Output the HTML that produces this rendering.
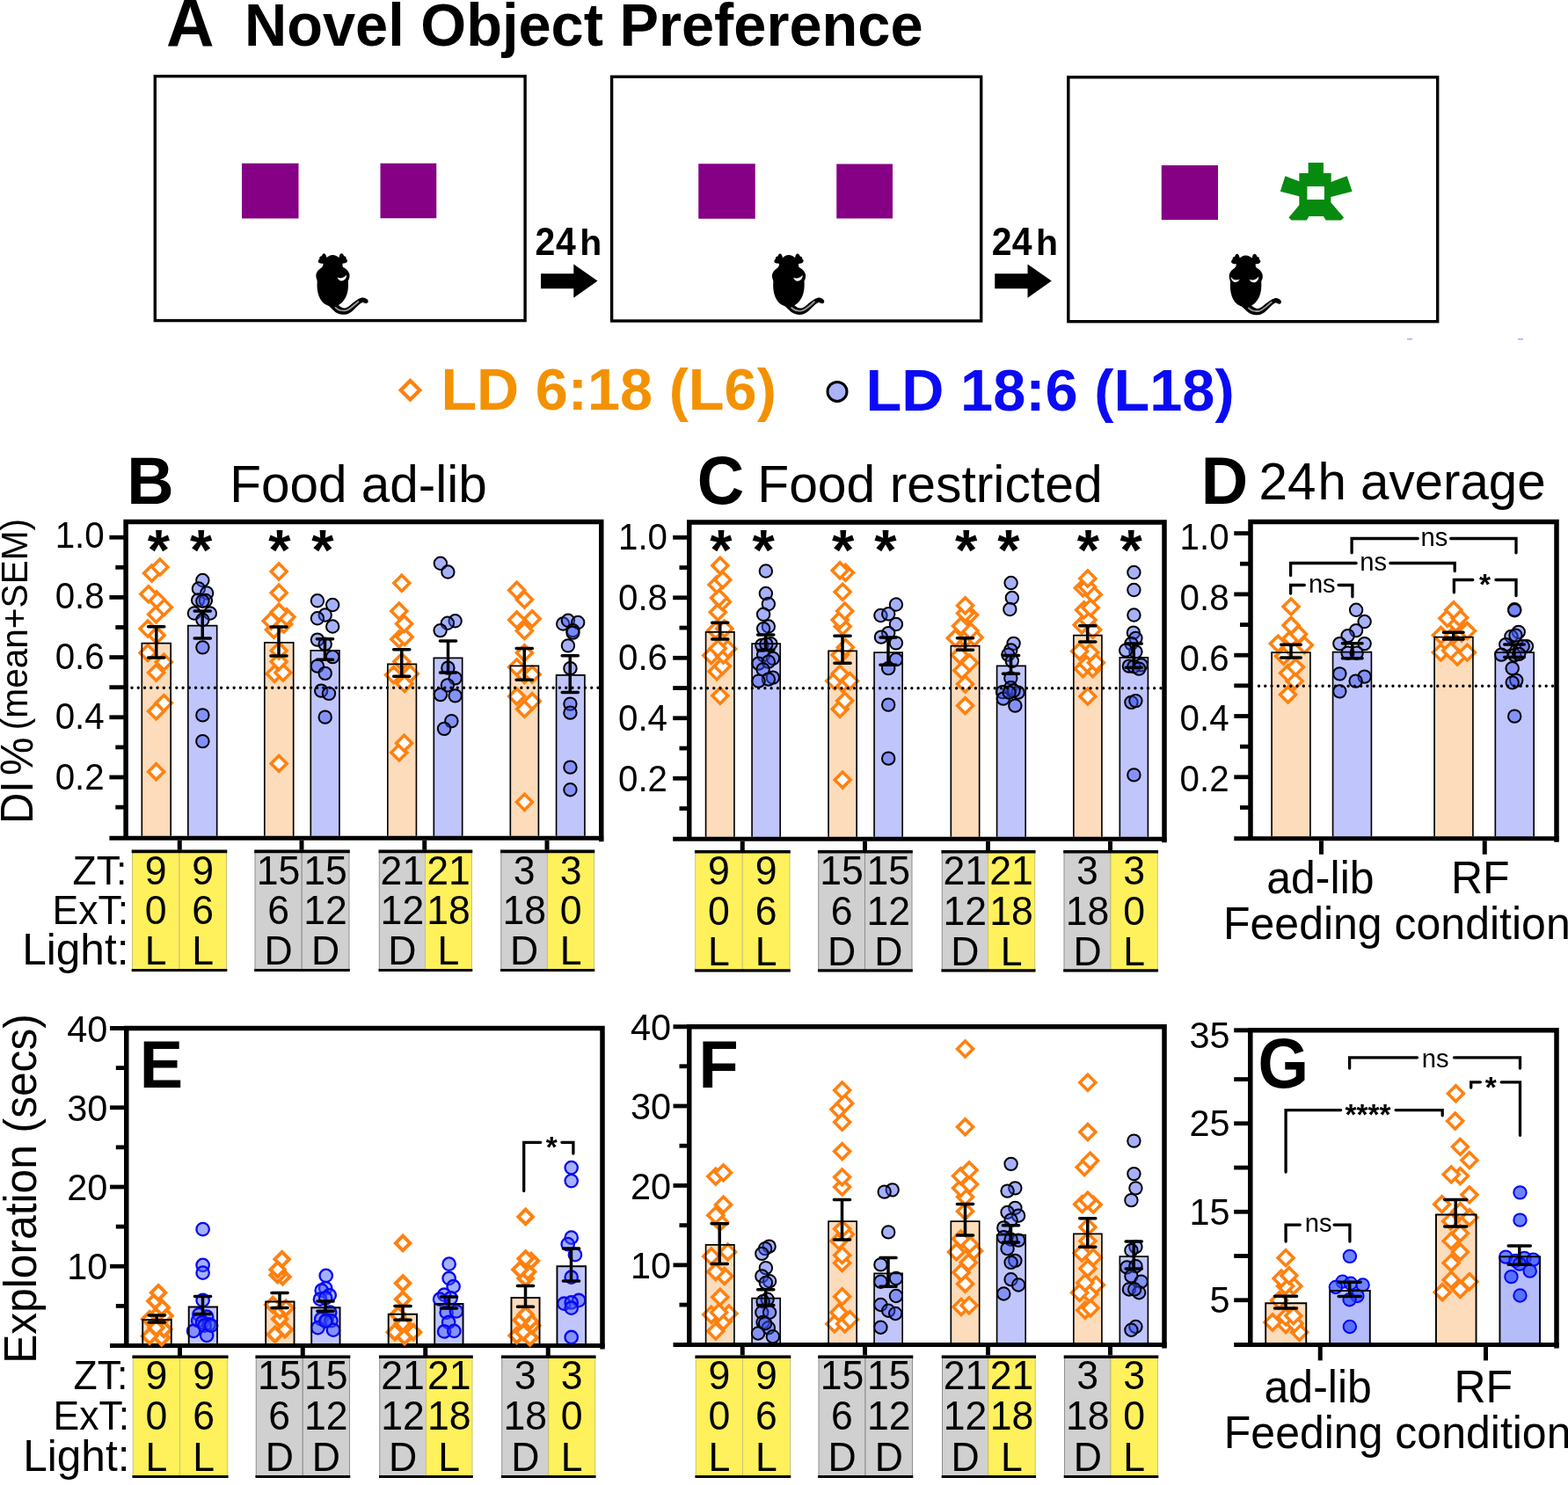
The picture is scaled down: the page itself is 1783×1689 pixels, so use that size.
<!DOCTYPE html>
<html lang="en"><head><meta charset="utf-8"><title>Novel Object Preference</title>
<style>html,body{margin:0;padding:0;background:#fff}svg{display:block}</style></head><body>
<svg width="1783" height="1689" viewBox="0 0 1783 1689" font-family='"Liberation Sans", sans-serif'>
<rect width="1783" height="1689" fill="#fff"/>
<text transform="translate(189 53.2) scale(1 1.03)" font-size="75.5" font-weight="bold">A</text>
<text transform="translate(278 52.2) scale(1 1.02)" font-size="66.75" font-weight="bold">Novel Object Preference</text>
<rect x="176.3" y="86.7" width="420.8" height="277.9" fill="none" stroke="#000" stroke-width="3.4"/>
<rect x="695.6" y="87.3" width="420.1" height="277.7" fill="none" stroke="#000" stroke-width="3.4"/>
<rect x="1214.8" y="87.8" width="419.9" height="277.9" fill="none" stroke="#000" stroke-width="3.4"/>
<rect x="275" y="185.75" width="64.5" height="62.75" fill="#850085"/>
<rect x="432.5" y="185.75" width="63.75" height="62.5" fill="#850085"/>
<rect x="794.25" y="186.25" width="64.5" height="62.5" fill="#850085"/>
<rect x="951.25" y="186.5" width="63.75" height="62" fill="#850085"/>
<rect x="1320.75" y="188" width="64.25" height="62" fill="#850085"/>
<path d="M1487.65 184.94L1504.95 184.94L1504.95 197.06L1513.7 197.06L1513.7 206.88L1531.67 200.29L1537.59 217.65L1513.36 223.98L1513.36 230.24L1528.17 247.4L1524.94 250.43L1507.64 250.43L1504.95 246.05L1488.46 246.05L1485.77 250.43L1468.6 250.43L1465.44 247.4L1477.35 233.26L1477.35 223.17L1455.82 217.65L1461.4 200.29L1477.35 206.34L1477.35 197.06L1487.65 197.06ZM1486.44 212.06L1486.44 227.07L1505.96 227.07L1505.96 212.06Z" fill="#078a10" fill-rule="evenodd"/>
<g transform="translate(345 275) scale(0.05625)">
<path d="M590 265C540 265 500 290 470 320C460 270 440 235 415 235C390 235 375 270 370 290C340 290 320 310 325 345C290 370 290 410 320 425C350 440 380 440 400 440C400 470 390 500 370 520C300 560 255 620 255 690C255 740 280 770 280 800C270 900 280 1000 310 1090C340 1180 400 1250 480 1285C530 1300 560 1340 600 1380C660 1440 740 1475 820 1470C900 1470 960 1430 1010 1380C1080 1310 1130 1250 1200 1220C1230 1230 1250 1250 1280 1245C1310 1235 1320 1200 1300 1175C1270 1140 1220 1120 1180 1130C1100 1150 1020 1220 950 1280C900 1320 860 1345 820 1340C780 1335 740 1310 710 1280C800 1230 870 1130 895 1000C910 920 910 850 905 790C930 750 940 700 930 650C915 590 860 540 800 510C790 490 790 460 790 440C830 440 860 430 880 410C900 390 890 360 865 345C870 310 850 290 820 290C815 265 795 235 765 235C740 235 725 275 720 320C690 290 640 265 590 265Z" fill="#000"/>
<path d="M685 715C740 750 820 730 870 670C880 720 840 790 770 790C730 790 700 760 685 715Z" fill="#f4f4f4"/>
<path d="M650 1330C720 1395 800 1400 860 1390C940 1370 1040 1270 1110 1210" fill="none" stroke="#999" stroke-width="32" stroke-linecap="round"/>
</g>
<g transform="translate(863.6 275.2) scale(0.05625)">
<path d="M590 265C540 265 500 290 470 320C460 270 440 235 415 235C390 235 375 270 370 290C340 290 320 310 325 345C290 370 290 410 320 425C350 440 380 440 400 440C400 470 390 500 370 520C300 560 255 620 255 690C255 740 280 770 280 800C270 900 280 1000 310 1090C340 1180 400 1250 480 1285C530 1300 560 1340 600 1380C660 1440 740 1475 820 1470C900 1470 960 1430 1010 1380C1080 1310 1130 1250 1200 1220C1230 1230 1250 1250 1280 1245C1310 1235 1320 1200 1300 1175C1270 1140 1220 1120 1180 1130C1100 1150 1020 1220 950 1280C900 1320 860 1345 820 1340C780 1335 740 1310 710 1280C800 1230 870 1130 895 1000C910 920 910 850 905 790C930 750 940 700 930 650C915 590 860 540 800 510C790 490 790 460 790 440C830 440 860 430 880 410C900 390 890 360 865 345C870 310 850 290 820 290C815 265 795 235 765 235C740 235 725 275 720 320C690 290 640 265 590 265Z" fill="#000"/>
<path d="M685 715C740 750 820 730 870 670C880 720 840 790 770 790C730 790 700 760 685 715Z" fill="#f4f4f4"/>
<path d="M650 1330C720 1395 800 1400 860 1390C940 1370 1040 1270 1110 1210" fill="none" stroke="#999" stroke-width="32" stroke-linecap="round"/>
</g>
<g transform="translate(1383.3 275.6) scale(0.05625)">
<path d="M590 265C540 265 500 290 470 320C460 270 440 235 415 235C390 235 375 270 370 290C340 290 320 310 325 345C290 370 290 410 320 425C350 440 380 440 400 440C400 470 390 500 370 520C300 560 255 620 255 690C255 740 280 770 280 800C270 900 280 1000 310 1090C340 1180 400 1250 480 1285C530 1300 560 1340 600 1380C660 1440 740 1475 820 1470C900 1470 960 1430 1010 1380C1080 1310 1130 1250 1200 1220C1230 1230 1250 1250 1280 1245C1310 1235 1320 1200 1300 1175C1270 1140 1220 1120 1180 1130C1100 1150 1020 1220 950 1280C900 1320 860 1345 820 1340C780 1335 740 1310 710 1280C800 1230 870 1130 895 1000C910 920 910 850 905 790C930 750 940 700 930 650C915 590 860 540 800 510C790 490 790 460 790 440C830 440 860 430 880 410C900 390 890 360 865 345C870 310 850 290 820 290C815 265 795 235 765 235C740 235 725 275 720 320C690 290 640 265 590 265Z" fill="#000"/>
<path d="M285 690C320 750 390 780 470 745C440 800 400 812 365 805C325 795 295 750 285 690Z" fill="#f4f4f4"/>
<path d="M665 745C720 780 800 760 850 690C860 745 820 812 750 812C710 812 680 790 665 745Z" fill="#f4f4f4"/>
<path d="M650 1330C720 1395 800 1400 860 1390C940 1370 1040 1270 1110 1210" fill="none" stroke="#999" stroke-width="32" stroke-linecap="round"/>
</g>
<text transform="translate(608.6 289.9) scale(1 1.09)" font-size="41" font-weight="bold" letter-spacing="0.5">24</text>
<text transform="translate(659.3 289.9) scale(1 1.01)" font-size="41" font-weight="bold">h</text>
<path d="M615 311.3H652.3V300.5L679.5 319.5L652.3 338.8V328.3H615Z" fill="#000"/>
<text transform="translate(1127.85 289.9) scale(1 1.09)" font-size="41" font-weight="bold" letter-spacing="0.2">24</text>
<text transform="translate(1177.95 289.9) scale(1 1.01)" font-size="41" font-weight="bold">h</text>
<path d="M1131.25 311.3H1168.55V300.5L1195.75 319.5L1168.55 338.8V328.3H1131.25Z" fill="#000"/>
<rect x="1600" y="385" width="6" height="1.4" fill="#9aa8ff"/>
<rect x="1726" y="385" width="6" height="1.4" fill="#9aa8ff"/>
<path d="M466.5 432.9L477.3 443.7L466.5 454.5L455.7 443.7Z" fill="#fff" stroke="#ff800f" stroke-width="4.2"/>
<text transform="translate(501.4 466.2) scale(1 1.012)" font-size="66.65" font-weight="bold" fill="#f39200">LD 6:18 (L6)</text>
<circle cx="952" cy="445.4" r="11" fill="#a9b4fb" stroke="#000" stroke-width="3"/>
<text transform="translate(984.6 466.8) scale(1 1.012)" font-size="66.75" font-weight="bold" fill="#0a0af5">LD 18:6 (L18)</text>
<text transform="translate(144.3 573.2) scale(1 1.035)" font-size="74" font-weight="bold">B</text>
<text transform="translate(261.2 570.6) scale(1 1.02)" font-size="58.5">Food ad-lib</text>
<rect x="161.32" y="731.58" width="32.85" height="222.5" fill="#fddcbb"/>
<rect x="213.82" y="711.58" width="32.85" height="242.5" fill="#c0c6fb"/>
<rect x="300.82" y="730.83" width="32.85" height="223.25" fill="#fddcbb"/>
<rect x="353.32" y="739.83" width="32.6" height="214.25" fill="#c0c6fb"/>
<rect x="440.82" y="755.33" width="32.6" height="198.75" fill="#fddcbb"/>
<rect x="493.32" y="748.33" width="32.35" height="205.75" fill="#c0c6fb"/>
<rect x="580.33" y="757.33" width="32.1" height="196.75" fill="#fddcbb"/>
<rect x="632.58" y="767.83" width="32.35" height="186.25" fill="#c0c6fb"/>
<path d="M143.1 953.25V593.6H683.75V957.25" fill="none" stroke="#000" stroke-width="5.5" stroke-linejoin="miter"/>
<line x1="124.4" y1="953.25" x2="686.25" y2="953.25" stroke="#000" stroke-width="5"/>
<line x1="131.3" y1="918.1" x2="143.1" y2="918.1" stroke="#000" stroke-width="4.8"/>
<line x1="124.4" y1="884" x2="143.1" y2="884" stroke="#000" stroke-width="4.8"/>
<line x1="131.3" y1="849.9" x2="143.1" y2="849.9" stroke="#000" stroke-width="4.8"/>
<line x1="124.4" y1="815.8" x2="143.1" y2="815.8" stroke="#000" stroke-width="4.8"/>
<line x1="124.4" y1="781.7" x2="143.1" y2="781.7" stroke="#000" stroke-width="4.8"/>
<line x1="124.4" y1="747.6" x2="143.1" y2="747.6" stroke="#000" stroke-width="4.8"/>
<line x1="131.3" y1="713.5" x2="143.1" y2="713.5" stroke="#000" stroke-width="4.8"/>
<line x1="124.4" y1="679.4" x2="143.1" y2="679.4" stroke="#000" stroke-width="4.8"/>
<line x1="131.3" y1="645.3" x2="143.1" y2="645.3" stroke="#000" stroke-width="4.8"/>
<line x1="124.4" y1="611.2" x2="143.1" y2="611.2" stroke="#000" stroke-width="4.8"/>
<text transform="translate(118.7 897.81) scale(1 1.04)" font-size="40.3" text-anchor="end">0.2</text>
<text transform="translate(118.7 829.16) scale(1 1.04)" font-size="40.3" text-anchor="end">0.4</text>
<text transform="translate(118.7 760.51) scale(1 1.04)" font-size="40.3" text-anchor="end">0.6</text>
<text transform="translate(118.7 691.86) scale(1 1.04)" font-size="40.3" text-anchor="end">0.8</text>
<text transform="translate(118.7 623.21) scale(1 1.04)" font-size="40.3" text-anchor="end">1.0</text>
<line x1="204.25" y1="955.75" x2="204.25" y2="966.75" stroke="#000" stroke-width="5"/>
<line x1="343" y1="955.75" x2="343" y2="966.75" stroke="#000" stroke-width="5"/>
<line x1="482.75" y1="955.75" x2="482.75" y2="966.75" stroke="#000" stroke-width="5"/>
<line x1="622" y1="955.75" x2="622" y2="966.75" stroke="#000" stroke-width="5"/>
<g fill="#fff" stroke="#ff800f" stroke-width="3.55" stroke-linejoin="miter">
<path d="M177.6 868.72L186.55 877.67L177.6 886.62L168.65 877.67Z"/>
<path d="M177.6 799.93L186.55 808.88L177.6 817.83L168.65 808.88Z"/>
<path d="M186.35 790.67L195.3 799.62L186.35 808.57L177.4 799.62Z"/>
<path d="M177.6 756.15L186.55 765.1L177.6 774.05L168.65 765.1Z"/>
<path d="M186.35 744.15L195.3 753.1L186.35 762.05L177.4 753.1Z"/>
<path d="M168.09 733.64L177.04 742.59L168.09 751.54L159.14 742.59Z"/>
<path d="M178.1 713.63L187.05 722.58L178.1 731.53L169.15 722.58Z"/>
<path d="M168.09 706.13L177.04 715.08L168.09 724.03L159.14 715.08Z"/>
<path d="M177.6 689.87L186.55 698.82L177.6 707.77L168.65 698.82Z"/>
<path d="M186.35 681.86L195.3 690.81L186.35 699.76L177.4 690.81Z"/>
<path d="M178.1 673.11L187.05 682.06L178.1 691.01L169.15 682.06Z"/>
<path d="M168.84 666.85L177.79 675.8L168.84 684.75L159.89 675.8Z"/>
<path d="M172.6 643.09L181.55 652.04L172.6 660.99L163.65 652.04Z"/>
<path d="M181.85 636.09L190.8 645.04L181.85 653.99L172.9 645.04Z"/>
</g>
<g fill="#3d55f5" fill-opacity="0.46" stroke="#000" stroke-width="2">
<circle cx="230.38" cy="660.04" r="7.2"/>
<circle cx="225.88" cy="669.55" r="7.2"/>
<circle cx="235.13" cy="674.55" r="7.2"/>
<circle cx="225.13" cy="682.56" r="7.2"/>
<circle cx="233.88" cy="683.06" r="7.2"/>
<circle cx="230.38" cy="683.81" r="7.2"/>
<circle cx="220.87" cy="697.57" r="7.2"/>
<circle cx="238.88" cy="697.57" r="7.2"/>
<circle cx="230.38" cy="705.07" r="7.2"/>
<circle cx="230.38" cy="736.34" r="7.2"/>
<circle cx="230.38" cy="813.38" r="7.2"/>
<circle cx="230.38" cy="843.15" r="7.2"/>
</g>
<g fill="#fff" stroke="#ff800f" stroke-width="3.55" stroke-linejoin="miter">
<path d="M317.18 859.46L326.13 868.41L317.18 877.36L308.23 868.41Z"/>
<path d="M312.17 757.4L321.12 766.35L312.17 775.3L303.22 766.35Z"/>
<path d="M321.93 756.15L330.88 765.1L321.93 774.05L312.98 765.1Z"/>
<path d="M317.18 743.65L326.13 752.6L317.18 761.55L308.23 752.6Z"/>
<path d="M317.18 731.14L326.13 740.09L317.18 749.04L308.23 740.09Z"/>
<path d="M311.42 707.38L320.37 716.33L311.42 725.28L302.47 716.33Z"/>
<path d="M322.68 701.12L331.63 710.07L322.68 719.02L313.73 710.07Z"/>
<path d="M308.17 697.37L317.12 706.32L308.17 715.27L299.22 706.32Z"/>
<path d="M325.93 692.87L334.88 701.82L325.93 710.77L316.98 701.82Z"/>
<path d="M317.18 687.37L326.13 696.32L317.18 705.27L308.23 696.32Z"/>
<path d="M317.18 665.35L326.13 674.3L317.18 683.25L308.23 674.3Z"/>
<path d="M317.18 641.09L326.13 650.04L317.18 658.99L308.23 650.04Z"/>
</g>
<g fill="#3d55f5" fill-opacity="0.46" stroke="#000" stroke-width="2">
<circle cx="360.95" cy="683.31" r="7.2"/>
<circle cx="378.21" cy="688.06" r="7.2"/>
<circle cx="369.71" cy="699.57" r="7.2"/>
<circle cx="360.95" cy="703.32" r="7.2"/>
<circle cx="378.21" cy="712.57" r="7.2"/>
<circle cx="360.95" cy="727.58" r="7.2"/>
<circle cx="369.71" cy="732.59" r="7.2"/>
<circle cx="378.21" cy="747.09" r="7.2"/>
<circle cx="360.95" cy="757.6" r="7.2"/>
<circle cx="369.71" cy="765.85" r="7.2"/>
<circle cx="365.2" cy="785.62" r="7.2"/>
<circle cx="373.96" cy="788.87" r="7.2"/>
<circle cx="369.71" cy="815.63" r="7.2"/>
</g>
<g fill="#fff" stroke="#ff800f" stroke-width="3.55" stroke-linejoin="miter">
<path d="M453.84 846.95L462.79 855.9L453.84 864.85L444.89 855.9Z"/>
<path d="M459.59 836.2L468.54 845.15L459.59 854.1L450.64 845.15Z"/>
<path d="M460.09 768.66L469.04 777.61L460.09 786.56L451.14 777.61Z"/>
<path d="M447.58 758.66L456.53 767.61L447.58 776.56L438.63 767.61Z"/>
<path d="M466.34 757.4L475.29 766.35L466.34 775.3L457.39 766.35Z"/>
<path d="M456.84 743.65L465.79 752.6L456.84 761.55L447.89 752.6Z"/>
<path d="M453.84 718.13L462.79 727.08L453.84 736.03L444.89 727.08Z"/>
<path d="M460.09 715.63L469.04 724.58L460.09 733.53L451.14 724.58Z"/>
<path d="M459.59 700.62L468.54 709.57L459.59 718.52L450.64 709.57Z"/>
<path d="M453.84 686.11L462.79 695.06L453.84 704.01L444.89 695.06Z"/>
<path d="M456.84 654.35L465.79 663.3L456.84 672.25L447.89 663.3Z"/>
</g>
<g fill="#3d55f5" fill-opacity="0.46" stroke="#000" stroke-width="2">
<circle cx="500.86" cy="640.78" r="7.2"/>
<circle cx="509.37" cy="650.54" r="7.2"/>
<circle cx="517.62" cy="706.32" r="7.2"/>
<circle cx="508.87" cy="708.82" r="7.2"/>
<circle cx="500.61" cy="717.08" r="7.2"/>
<circle cx="509.37" cy="759.6" r="7.2"/>
<circle cx="517.62" cy="771.36" r="7.2"/>
<circle cx="508.87" cy="779.36" r="7.2"/>
<circle cx="500.86" cy="790.12" r="7.2"/>
<circle cx="517.62" cy="791.37" r="7.2"/>
<circle cx="513.37" cy="820.13" r="7.2"/>
<circle cx="505.11" cy="828.89" r="7.2"/>
</g>
<g fill="#fff" stroke="#ff800f" stroke-width="3.55" stroke-linejoin="miter">
<path d="M596.42 903.24L605.37 912.19L596.42 921.14L587.47 912.19Z"/>
<path d="M596.42 797.43L605.37 806.38L596.42 815.33L587.47 806.38Z"/>
<path d="M605.17 788.67L614.12 797.62L605.17 806.57L596.22 797.62Z"/>
<path d="M587.66 783.17L596.61 792.12L587.66 801.07L578.71 792.12Z"/>
<path d="M596.42 758.66L605.37 767.61L596.42 776.56L587.47 767.61Z"/>
<path d="M605.17 758.15L614.12 767.1L605.17 776.05L596.22 767.1Z"/>
<path d="M587.66 749.9L596.61 758.85L587.66 767.8L578.71 758.85Z"/>
<path d="M596.42 733.64L605.37 742.59L596.42 751.54L587.47 742.59Z"/>
<path d="M596.42 708.63L605.37 717.58L596.42 726.53L587.47 717.58Z"/>
<path d="M587.66 696.12L596.61 705.07L587.66 714.02L578.71 705.07Z"/>
<path d="M605.17 694.87L614.12 703.82L605.17 712.77L596.22 703.82Z"/>
<path d="M596.42 673.11L605.37 682.06L596.42 691.01L587.47 682.06Z"/>
<path d="M587.66 662.35L596.61 671.3L587.66 680.25L578.71 671.3Z"/>
</g>
<g fill="#3d55f5" fill-opacity="0.46" stroke="#000" stroke-width="2">
<circle cx="640.19" cy="709.57" r="7.2"/>
<circle cx="645.94" cy="705.82" r="7.2"/>
<circle cx="657.2" cy="708.07" r="7.2"/>
<circle cx="651.45" cy="717.08" r="7.2"/>
<circle cx="651.45" cy="719.58" r="7.2"/>
<circle cx="645.94" cy="734.34" r="7.2"/>
<circle cx="648.45" cy="760.1" r="7.2"/>
<circle cx="648.45" cy="800.62" r="7.2"/>
<circle cx="648.45" cy="810.63" r="7.2"/>
<circle cx="648.45" cy="872.66" r="7.2"/>
<circle cx="648.45" cy="898.18" r="7.2"/>
</g>
<g fill="none" stroke="#000" stroke-width="1.65">
<path d="M161.32 950.85V731.58H194.18V950.85"/>
<path d="M213.82 950.85V711.58H246.68V950.85"/>
<path d="M300.82 950.85V730.83H333.68V950.85"/>
<path d="M353.32 950.85V739.83H385.93V950.85"/>
<path d="M440.82 950.85V755.33H473.43V950.85"/>
<path d="M493.32 950.85V748.33H525.67V950.85"/>
<path d="M580.33 950.85V757.33H612.42V950.85"/>
<path d="M632.58 950.85V767.83H664.92V950.85"/>
</g>
<g stroke="#000" stroke-width="3.5" fill="none" stroke-linecap="round">
<path d="M168.65 712.7H186.85M168.65 747.9H186.85M177.75 712.7V747.9"/>
<path d="M221.15 694.9H239.35M221.15 725.9H239.35M230.25 694.9V725.9"/>
<path d="M307.9 713.1H326.1M307.9 745.9H326.1M317 713.1V745.9"/>
<path d="M360.4 726.8H378.6M360.4 750.3H378.6M369.5 726.8V750.3"/>
<path d="M447.65 738.75H465.85M447.65 769.25H465.85M456.75 738.75V769.25"/>
<path d="M500.4 729H518.6M500.4 765H518.6M509.5 729V765"/>
<path d="M587.15 737.5H605.35M587.15 773.25H605.35M596.25 737.5V773.25"/>
<path d="M639.15 745.75H657.35M639.15 787.5H657.35M648.25 745.75V787.5"/>
</g>
<line x1="150" y1="782.3" x2="680.75" y2="782.3" stroke="#000" stroke-width="3.4" stroke-dasharray="0.01 7.25" stroke-linecap="round"/>
<text x="180.5" y="648" font-size="65" font-weight="bold" text-anchor="middle">*</text>
<text x="228.75" y="648" font-size="65" font-weight="bold" text-anchor="middle">*</text>
<text x="318" y="648" font-size="65" font-weight="bold" text-anchor="middle">*</text>
<text x="367" y="648" font-size="65" font-weight="bold" text-anchor="middle">*</text>
<rect x="150.5" y="968.4" width="53.5" height="135.1" fill="#fff15c" stroke="#c9c270" stroke-width="1"/>
<rect x="204" y="968.4" width="53.5" height="135.1" fill="#fff15c" stroke="#c9c270" stroke-width="1"/>
<line x1="149.7" y1="968.4" x2="258.3" y2="968.4" stroke="#000" stroke-width="3.6"/>
<line x1="149.7" y1="1103.5" x2="258.3" y2="1103.5" stroke="#000" stroke-width="3.2"/>
<rect x="290" y="968.4" width="53.25" height="135.1" fill="#d0d0d0" stroke="#8f8f8f" stroke-width="1"/>
<rect x="343.25" y="968.4" width="53.75" height="135.1" fill="#d0d0d0" stroke="#8f8f8f" stroke-width="1"/>
<line x1="289.2" y1="968.4" x2="397.8" y2="968.4" stroke="#000" stroke-width="3.6"/>
<line x1="289.2" y1="1103.5" x2="397.8" y2="1103.5" stroke="#000" stroke-width="3.2"/>
<rect x="431.3" y="968.4" width="52.2" height="135.1" fill="#d0d0d0" stroke="#8f8f8f" stroke-width="1"/>
<rect x="483.5" y="968.4" width="53" height="135.1" fill="#fff15c" stroke="#c9c270" stroke-width="1"/>
<line x1="430.5" y1="968.4" x2="537.3" y2="968.4" stroke="#000" stroke-width="3.6"/>
<line x1="430.5" y1="1103.5" x2="537.3" y2="1103.5" stroke="#000" stroke-width="3.2"/>
<rect x="569.8" y="968.4" width="52.8" height="135.1" fill="#d0d0d0" stroke="#8f8f8f" stroke-width="1"/>
<rect x="622.6" y="968.4" width="52.9" height="135.1" fill="#fff15c" stroke="#c9c270" stroke-width="1"/>
<line x1="569" y1="968.4" x2="676.3" y2="968.4" stroke="#000" stroke-width="3.6"/>
<line x1="569" y1="1103.5" x2="676.3" y2="1103.5" stroke="#000" stroke-width="3.2"/>
<g font-size="44.6" text-anchor="middle">
<text transform="translate(177.25 1005.7) scale(1 1.04)">9</text>
<text transform="translate(230.75 1005.7) scale(1 1.04)">9</text>
<text transform="translate(316.62 1005.7) scale(1 1.04)">15</text>
<text transform="translate(370.12 1005.7) scale(1 1.04)">15</text>
<text transform="translate(457.4 1005.7) scale(1 1.04)">21</text>
<text transform="translate(510 1005.7) scale(1 1.04)">21</text>
<text transform="translate(596.2 1005.7) scale(1 1.04)">3</text>
<text transform="translate(649.05 1005.7) scale(1 1.04)">3</text>
<text transform="translate(177.25 1051.2) scale(1 1.04)">0</text>
<text transform="translate(230.75 1051.2) scale(1 1.04)">6</text>
<text transform="translate(316.62 1051.2) scale(1 1.04)">6</text>
<text transform="translate(370.12 1051.2) scale(1 1.04)">12</text>
<text transform="translate(457.4 1051.2) scale(1 1.04)">12</text>
<text transform="translate(510 1051.2) scale(1 1.04)">18</text>
<text transform="translate(596.2 1051.2) scale(1 1.04)">18</text>
<text transform="translate(649.05 1051.2) scale(1 1.04)">0</text>
<text transform="translate(177.25 1097.4) scale(1 1.04)">L</text>
<text transform="translate(230.75 1097.4) scale(1 1.04)">L</text>
<text transform="translate(316.62 1097.4) scale(1 1.04)">D</text>
<text transform="translate(370.12 1097.4) scale(1 1.04)">D</text>
<text transform="translate(457.4 1097.4) scale(1 1.04)">D</text>
<text transform="translate(510 1097.4) scale(1 1.04)">L</text>
<text transform="translate(596.2 1097.4) scale(1 1.04)">D</text>
<text transform="translate(649.05 1097.4) scale(1 1.04)">L</text>
</g>
<text transform="translate(144.3 1005.7) scale(1 1.02)" font-size="44.5" text-anchor="end">ZT:</text>
<text transform="translate(146 1051.2) scale(1 1.02)" font-size="44.5" text-anchor="end">ExT:</text>
<text transform="translate(146.5 1097.4) scale(1 1.02)" font-size="49.6" text-anchor="end">Light:</text>
<text transform="translate(36.9 937) rotate(-90) scale(1 1.04)" font-size="49">DI<tspan dx="6">%</tspan></text>
<text transform="translate(31 830.2) rotate(-90) scale(1 1.03)" font-size="40.6">(mean+SEM)</text>
<text transform="translate(792.8 572.7) scale(1 1.05)" font-size="74" font-weight="bold">C</text>
<text transform="translate(861.2 570.6) scale(1 1.02)" font-size="58.85">Food restricted</text>
<rect x="802.58" y="718.83" width="32.35" height="236.25" fill="#fddcbb"/>
<rect x="855.08" y="732.08" width="32.1" height="223" fill="#c0c6fb"/>
<rect x="942.08" y="740.33" width="32.1" height="214.75" fill="#fddcbb"/>
<rect x="994.08" y="742.08" width="32.1" height="213" fill="#c0c6fb"/>
<rect x="1081.33" y="734.58" width="32.35" height="220.5" fill="#fddcbb"/>
<rect x="1133.58" y="757.33" width="32.6" height="197.75" fill="#c0c6fb"/>
<rect x="1220.83" y="722.58" width="32.1" height="232.5" fill="#fddcbb"/>
<rect x="1273.33" y="747.83" width="32.1" height="207.25" fill="#c0c6fb"/>
<path d="M783.75 954.25V594H1324V958.25" fill="none" stroke="#000" stroke-width="5.5" stroke-linejoin="miter"/>
<line x1="765.2" y1="954.25" x2="1326.5" y2="954.25" stroke="#000" stroke-width="5"/>
<line x1="772.5" y1="919.55" x2="783.75" y2="919.55" stroke="#000" stroke-width="4.8"/>
<line x1="765.2" y1="885.3" x2="783.75" y2="885.3" stroke="#000" stroke-width="4.8"/>
<line x1="772.5" y1="851.05" x2="783.75" y2="851.05" stroke="#000" stroke-width="4.8"/>
<line x1="765.2" y1="816.8" x2="783.75" y2="816.8" stroke="#000" stroke-width="4.8"/>
<line x1="765.2" y1="782.55" x2="783.75" y2="782.55" stroke="#000" stroke-width="4.8"/>
<line x1="765.2" y1="748.3" x2="783.75" y2="748.3" stroke="#000" stroke-width="4.8"/>
<line x1="772.5" y1="714.05" x2="783.75" y2="714.05" stroke="#000" stroke-width="4.8"/>
<line x1="765.2" y1="679.8" x2="783.75" y2="679.8" stroke="#000" stroke-width="4.8"/>
<line x1="772.5" y1="645.55" x2="783.75" y2="645.55" stroke="#000" stroke-width="4.8"/>
<line x1="765.2" y1="611.3" x2="783.75" y2="611.3" stroke="#000" stroke-width="4.8"/>
<text transform="translate(759 899.75) scale(1 1.04)" font-size="40.3" text-anchor="end">0.2</text>
<text transform="translate(759 831.09) scale(1 1.04)" font-size="40.3" text-anchor="end">0.4</text>
<text transform="translate(759 762.43) scale(1 1.04)" font-size="40.3" text-anchor="end">0.6</text>
<text transform="translate(759 693.77) scale(1 1.04)" font-size="40.3" text-anchor="end">0.8</text>
<text transform="translate(759 625.11) scale(1 1.04)" font-size="40.3" text-anchor="end">1.0</text>
<line x1="844.25" y1="956.75" x2="844.25" y2="967.75" stroke="#000" stroke-width="5"/>
<line x1="983.5" y1="956.75" x2="983.5" y2="967.75" stroke="#000" stroke-width="5"/>
<line x1="1123.5" y1="956.75" x2="1123.5" y2="967.75" stroke="#000" stroke-width="5"/>
<line x1="1262.5" y1="956.75" x2="1262.5" y2="967.75" stroke="#000" stroke-width="5"/>
<g fill="#fff" stroke="#ff800f" stroke-width="3.55" stroke-linejoin="miter">
<path d="M818.83 782.42L827.78 791.37L818.83 800.32L809.88 791.37Z"/>
<path d="M815.08 754.9L824.03 763.85L815.08 772.8L806.13 763.85Z"/>
<path d="M821.33 748.65L830.28 757.6L821.33 766.55L812.38 757.6Z"/>
<path d="M808.82 736.64L817.77 745.59L808.82 754.54L799.87 745.59Z"/>
<path d="M822.58 736.14L831.53 745.09L822.58 754.04L813.63 745.09Z"/>
<path d="M827.58 729.14L836.53 738.09L827.58 747.04L818.63 738.09Z"/>
<path d="M816.33 728.64L825.28 737.59L816.33 746.54L807.38 737.59Z"/>
<path d="M813.83 708.13L822.78 717.08L813.83 726.03L804.88 717.08Z"/>
<path d="M823.83 706.13L832.78 715.08L823.83 724.03L814.88 715.08Z"/>
<path d="M816.33 687.37L825.28 696.32L816.33 705.27L807.38 696.32Z"/>
<path d="M821.33 675.61L830.28 684.56L821.33 693.51L812.38 684.56Z"/>
<path d="M817.58 671.11L826.53 680.06L817.58 689.01L808.63 680.06Z"/>
<path d="M815.08 656.1L824.03 665.05L815.08 674L806.13 665.05Z"/>
<path d="M821.83 650.59L830.78 659.54L821.83 668.49L812.88 659.54Z"/>
<path d="M818.83 634.34L827.78 643.29L818.83 652.24L809.88 643.29Z"/>
</g>
<g fill="#3d55f5" fill-opacity="0.46" stroke="#000" stroke-width="2">
<circle cx="870.86" cy="649.54" r="7.2"/>
<circle cx="870.86" cy="675.05" r="7.2"/>
<circle cx="873.86" cy="687.06" r="7.2"/>
<circle cx="868.11" cy="698.82" r="7.2"/>
<circle cx="873.86" cy="712.57" r="7.2"/>
<circle cx="868.11" cy="715.08" r="7.2"/>
<circle cx="876.36" cy="732.09" r="7.2"/>
<circle cx="866.35" cy="733.84" r="7.2"/>
<circle cx="871.36" cy="732.59" r="7.2"/>
<circle cx="868.11" cy="745.09" r="7.2"/>
<circle cx="878.86" cy="748.84" r="7.2"/>
<circle cx="862.6" cy="754.6" r="7.2"/>
<circle cx="873.86" cy="752.6" r="7.2"/>
<circle cx="867.61" cy="761.35" r="7.2"/>
<circle cx="878.86" cy="770.61" r="7.2"/>
<circle cx="873.86" cy="772.61" r="7.2"/>
<circle cx="862.6" cy="774.61" r="7.2"/>
</g>
<g fill="#fff" stroke="#ff800f" stroke-width="3.55" stroke-linejoin="miter">
<path d="M958.16 877.97L967.11 886.92L958.16 895.87L949.21 886.92Z"/>
<path d="M955.15 797.43L964.1 806.38L955.15 815.33L946.2 806.38Z"/>
<path d="M960.66 788.17L969.61 797.12L960.66 806.07L951.71 797.12Z"/>
<path d="M958.16 768.66L967.11 777.61L958.16 786.56L949.21 777.61Z"/>
<path d="M948.9 765.66L957.85 774.61L948.9 783.56L939.95 774.61Z"/>
<path d="M966.41 765.66L975.36 774.61L966.41 783.56L957.46 774.61Z"/>
<path d="M955.15 757.4L964.1 766.35L955.15 775.3L946.2 766.35Z"/>
<path d="M955.15 736.14L964.1 745.09L955.15 754.04L946.2 745.09Z"/>
<path d="M961.41 727.39L970.36 736.34L961.41 745.29L952.46 736.34Z"/>
<path d="M958.16 703.62L967.11 712.57L958.16 721.52L949.21 712.57Z"/>
<path d="M955.15 696.12L964.1 705.07L955.15 714.02L946.2 705.07Z"/>
<path d="M960.66 686.11L969.61 695.06L960.66 704.01L951.71 695.06Z"/>
<path d="M958.16 664.35L967.11 673.3L958.16 682.25L949.21 673.3Z"/>
<path d="M961.41 642.34L970.36 651.29L961.41 660.24L952.46 651.29Z"/>
<path d="M955.15 639.84L964.1 648.79L955.15 657.74L946.2 648.79Z"/>
</g>
<g fill="#3d55f5" fill-opacity="0.46" stroke="#000" stroke-width="2">
<circle cx="1018.94" cy="687.56" r="7.2"/>
<circle cx="1001.43" cy="700.07" r="7.2"/>
<circle cx="1010.19" cy="698.32" r="7.2"/>
<circle cx="1018.94" cy="710.07" r="7.2"/>
<circle cx="1010.19" cy="720.08" r="7.2"/>
<circle cx="1001.93" cy="724.58" r="7.2"/>
<circle cx="1018.94" cy="731.33" r="7.2"/>
<circle cx="1018.94" cy="750.1" r="7.2"/>
<circle cx="1010.19" cy="760.1" r="7.2"/>
<circle cx="1010.19" cy="801.62" r="7.2"/>
<circle cx="1010.19" cy="862.66" r="7.2"/>
</g>
<g fill="#fff" stroke="#ff800f" stroke-width="3.55" stroke-linejoin="miter">
<path d="M1097.55 793.67L1106.5 802.62L1097.55 811.57L1088.6 802.62Z"/>
<path d="M1097.55 769.16L1106.5 778.11L1097.55 787.06L1088.6 778.11Z"/>
<path d="M1093.8 753.65L1102.75 762.6L1093.8 771.55L1084.85 762.6Z"/>
<path d="M1102.56 744.9L1111.51 753.85L1102.56 762.8L1093.61 753.85Z"/>
<path d="M1091.3 736.14L1100.25 745.09L1091.3 754.04L1082.35 745.09Z"/>
<path d="M1097.55 718.13L1106.5 727.08L1097.55 736.03L1088.6 727.08Z"/>
<path d="M1086.3 716.88L1095.25 725.83L1086.3 734.78L1077.35 725.83Z"/>
<path d="M1108.06 716.13L1117.01 725.08L1108.06 734.03L1099.11 725.08Z"/>
<path d="M1103.06 708.63L1112.01 717.58L1103.06 726.53L1094.11 717.58Z"/>
<path d="M1092.55 703.12L1101.5 712.07L1092.55 721.02L1083.6 712.07Z"/>
<path d="M1102.56 690.62L1111.51 699.57L1102.56 708.52L1093.61 699.57Z"/>
<path d="M1097.55 688.62L1106.5 697.57L1097.55 706.52L1088.6 697.57Z"/>
<path d="M1097.55 679.86L1106.5 688.81L1097.55 697.76L1088.6 688.81Z"/>
</g>
<g fill="#3d55f5" fill-opacity="0.46" stroke="#000" stroke-width="2">
<circle cx="1149.58" cy="663.05" r="7.2"/>
<circle cx="1150.83" cy="680.06" r="7.2"/>
<circle cx="1148.33" cy="693.06" r="7.2"/>
<circle cx="1152.59" cy="731.84" r="7.2"/>
<circle cx="1149.33" cy="739.34" r="7.2"/>
<circle cx="1146.33" cy="744.59" r="7.2"/>
<circle cx="1150.83" cy="751.85" r="7.2"/>
<circle cx="1149.33" cy="771.36" r="7.2"/>
<circle cx="1149.33" cy="782.11" r="7.2"/>
<circle cx="1140.08" cy="787.12" r="7.2"/>
<circle cx="1157.59" cy="787.62" r="7.2"/>
<circle cx="1152.59" cy="785.62" r="7.2"/>
<circle cx="1140.83" cy="794.62" r="7.2"/>
<circle cx="1154.34" cy="802.62" r="7.2"/>
<circle cx="1147.58" cy="787.62" r="7.2"/>
</g>
<g fill="#fff" stroke="#ff800f" stroke-width="3.55" stroke-linejoin="miter">
<path d="M1236.88 783.17L1245.83 792.12L1236.88 801.07L1227.93 792.12Z"/>
<path d="M1231.38 751.65L1240.33 760.6L1231.38 769.55L1222.43 760.6Z"/>
<path d="M1242.64 751.65L1251.59 760.6L1242.64 769.55L1233.69 760.6Z"/>
<path d="M1236.38 746.15L1245.33 755.1L1236.38 764.05L1227.43 755.1Z"/>
<path d="M1246.39 744.9L1255.34 753.85L1246.39 762.8L1237.44 753.85Z"/>
<path d="M1239.63 733.14L1248.58 742.09L1239.63 751.04L1230.68 742.09Z"/>
<path d="M1227.63 731.89L1236.58 740.84L1227.63 749.79L1218.68 740.84Z"/>
<path d="M1242.64 707.38L1251.59 716.33L1242.64 725.28L1233.69 716.33Z"/>
<path d="M1230.13 701.87L1239.08 710.82L1230.13 719.77L1221.18 710.82Z"/>
<path d="M1236.88 696.12L1245.83 705.07L1236.88 714.02L1227.93 705.07Z"/>
<path d="M1232.63 684.86L1241.58 693.81L1232.63 702.76L1223.68 693.81Z"/>
<path d="M1240.13 682.36L1249.08 691.31L1240.13 700.26L1231.18 691.31Z"/>
<path d="M1243.14 667.35L1252.09 676.3L1243.14 685.25L1234.19 676.3Z"/>
<path d="M1231.38 659.85L1240.33 668.8L1231.38 677.75L1222.43 668.8Z"/>
<path d="M1236.38 658.6L1245.33 667.55L1236.38 676.5L1227.43 667.55Z"/>
<path d="M1236.88 649.09L1245.83 658.04L1236.88 666.99L1227.93 658.04Z"/>
</g>
<g fill="#3d55f5" fill-opacity="0.46" stroke="#000" stroke-width="2">
<circle cx="1289.41" cy="651.04" r="7.2"/>
<circle cx="1289.41" cy="671.05" r="7.2"/>
<circle cx="1289.41" cy="699.57" r="7.2"/>
<circle cx="1288.91" cy="719.58" r="7.2"/>
<circle cx="1291.41" cy="725.83" r="7.2"/>
<circle cx="1286.41" cy="732.09" r="7.2"/>
<circle cx="1291.41" cy="741.34" r="7.2"/>
<circle cx="1280.16" cy="739.59" r="7.2"/>
<circle cx="1283.91" cy="757.6" r="7.2"/>
<circle cx="1297.67" cy="756.35" r="7.2"/>
<circle cx="1289.41" cy="758.1" r="7.2"/>
<circle cx="1295.17" cy="760.6" r="7.2"/>
<circle cx="1286.41" cy="798.87" r="7.2"/>
<circle cx="1291.41" cy="797.12" r="7.2"/>
<circle cx="1289.41" cy="881.42" r="7.2"/>
</g>
<g fill="none" stroke="#000" stroke-width="1.65">
<path d="M802.58 951.85V718.83H834.92V951.85"/>
<path d="M855.08 951.85V732.08H887.17V951.85"/>
<path d="M942.08 951.85V740.33H974.17V951.85"/>
<path d="M994.08 951.85V742.08H1026.17V951.85"/>
<path d="M1081.33 951.85V734.58H1113.67V951.85"/>
<path d="M1133.58 951.85V757.33H1166.17V951.85"/>
<path d="M1220.83 951.85V722.58H1252.92V951.85"/>
<path d="M1273.33 951.85V747.83H1305.42V951.85"/>
</g>
<g stroke="#000" stroke-width="3.5" fill="none" stroke-linecap="round">
<path d="M809.65 708.25H827.85M809.65 727H827.85M818.75 708.25V727"/>
<path d="M861.65 722H879.85M861.65 739.5H879.85M870.75 722V739.5"/>
<path d="M948.9 723.25H967.1M948.9 754.25H967.1M958 723.25V754.25"/>
<path d="M1000.9 725H1019.1M1000.9 756.25H1019.1M1010 725V756.25"/>
<path d="M1088.4 725.75H1106.6M1088.4 739.25H1106.6M1097.5 725.75V739.25"/>
<path d="M1140.4 745.5H1158.6M1140.4 766.25H1158.6M1149.5 745.5V766.25"/>
<path d="M1227.65 711.75H1245.85M1227.65 730H1245.85M1236.75 711.75V730"/>
<path d="M1280.15 732H1298.35M1280.15 759.25H1298.35M1289.25 732V759.25"/>
</g>
<line x1="790" y1="782.8" x2="1321" y2="782.8" stroke="#000" stroke-width="3.4" stroke-dasharray="0.01 7.25" stroke-linecap="round"/>
<text x="820" y="647.6" font-size="65" font-weight="bold" text-anchor="middle">*</text>
<text x="868.25" y="647.6" font-size="65" font-weight="bold" text-anchor="middle">*</text>
<text x="958.75" y="647.6" font-size="65" font-weight="bold" text-anchor="middle">*</text>
<text x="1007" y="647.6" font-size="65" font-weight="bold" text-anchor="middle">*</text>
<text x="1098.75" y="647.6" font-size="65" font-weight="bold" text-anchor="middle">*</text>
<text x="1147" y="647.6" font-size="65" font-weight="bold" text-anchor="middle">*</text>
<text x="1237.5" y="647.6" font-size="65" font-weight="bold" text-anchor="middle">*</text>
<text x="1286.25" y="647.6" font-size="65" font-weight="bold" text-anchor="middle">*</text>
<rect x="790.75" y="968.8" width="53.5" height="135.1" fill="#fff15c" stroke="#c9c270" stroke-width="1"/>
<rect x="844.25" y="968.8" width="53.75" height="135.1" fill="#fff15c" stroke="#c9c270" stroke-width="1"/>
<line x1="789.95" y1="968.8" x2="898.8" y2="968.8" stroke="#000" stroke-width="3.6"/>
<line x1="789.95" y1="1103.9" x2="898.8" y2="1103.9" stroke="#000" stroke-width="3.2"/>
<rect x="930.75" y="968.8" width="52.75" height="135.1" fill="#d0d0d0" stroke="#8f8f8f" stroke-width="1"/>
<rect x="983.5" y="968.8" width="53.5" height="135.1" fill="#d0d0d0" stroke="#8f8f8f" stroke-width="1"/>
<line x1="929.95" y1="968.8" x2="1037.8" y2="968.8" stroke="#000" stroke-width="3.6"/>
<line x1="929.95" y1="1103.9" x2="1037.8" y2="1103.9" stroke="#000" stroke-width="3.2"/>
<rect x="1071.25" y="968.8" width="52.25" height="135.1" fill="#d0d0d0" stroke="#8f8f8f" stroke-width="1"/>
<rect x="1123.5" y="968.8" width="53.25" height="135.1" fill="#fff15c" stroke="#c9c270" stroke-width="1"/>
<line x1="1070.45" y1="968.8" x2="1177.55" y2="968.8" stroke="#000" stroke-width="3.6"/>
<line x1="1070.45" y1="1103.9" x2="1177.55" y2="1103.9" stroke="#000" stroke-width="3.2"/>
<rect x="1210" y="968.8" width="53" height="135.1" fill="#d0d0d0" stroke="#8f8f8f" stroke-width="1"/>
<rect x="1263" y="968.8" width="53.25" height="135.1" fill="#fff15c" stroke="#c9c270" stroke-width="1"/>
<line x1="1209.2" y1="968.8" x2="1317.05" y2="968.8" stroke="#000" stroke-width="3.6"/>
<line x1="1209.2" y1="1103.9" x2="1317.05" y2="1103.9" stroke="#000" stroke-width="3.2"/>
<g font-size="44.6" text-anchor="middle">
<text transform="translate(817.5 1006.1) scale(1 1.04)">9</text>
<text transform="translate(871.12 1006.1) scale(1 1.04)">9</text>
<text transform="translate(957.12 1006.1) scale(1 1.04)">15</text>
<text transform="translate(1010.25 1006.1) scale(1 1.04)">15</text>
<text transform="translate(1097.38 1006.1) scale(1 1.04)">21</text>
<text transform="translate(1150.12 1006.1) scale(1 1.04)">21</text>
<text transform="translate(1236.5 1006.1) scale(1 1.04)">3</text>
<text transform="translate(1289.62 1006.1) scale(1 1.04)">3</text>
<text transform="translate(817.5 1051.6) scale(1 1.04)">0</text>
<text transform="translate(871.12 1051.6) scale(1 1.04)">6</text>
<text transform="translate(957.12 1051.6) scale(1 1.04)">6</text>
<text transform="translate(1010.25 1051.6) scale(1 1.04)">12</text>
<text transform="translate(1097.38 1051.6) scale(1 1.04)">12</text>
<text transform="translate(1150.12 1051.6) scale(1 1.04)">18</text>
<text transform="translate(1236.5 1051.6) scale(1 1.04)">18</text>
<text transform="translate(1289.62 1051.6) scale(1 1.04)">0</text>
<text transform="translate(817.5 1097.8) scale(1 1.04)">L</text>
<text transform="translate(871.12 1097.8) scale(1 1.04)">L</text>
<text transform="translate(957.12 1097.8) scale(1 1.04)">D</text>
<text transform="translate(1010.25 1097.8) scale(1 1.04)">D</text>
<text transform="translate(1097.38 1097.8) scale(1 1.04)">D</text>
<text transform="translate(1150.12 1097.8) scale(1 1.04)">L</text>
<text transform="translate(1236.5 1097.8) scale(1 1.04)">D</text>
<text transform="translate(1289.62 1097.8) scale(1 1.04)">L</text>
</g>
<text transform="translate(1365.8 573.2) scale(1 1.035)" font-size="74" font-weight="bold">D</text>
<text transform="translate(1431.6 567.7) scale(1 1.02)" font-size="58.3">24<tspan dx="2">h</tspan> average</text>
<rect x="1446.08" y="742.08" width="43.85" height="212.5" fill="#fddcbb"/>
<rect x="1515.58" y="741.58" width="43.85" height="213" fill="#c0c6fb"/>
<rect x="1631.08" y="724.58" width="43.85" height="230" fill="#fddcbb"/>
<rect x="1700.33" y="742.08" width="43.85" height="212.5" fill="#c0c6fb"/>
<path d="M1422 953.75V593.5H1770V957.75" fill="none" stroke="#000" stroke-width="5.5" stroke-linejoin="miter"/>
<line x1="1403.3" y1="953.75" x2="1772.5" y2="953.75" stroke="#000" stroke-width="5"/>
<line x1="1410" y1="918.45" x2="1422" y2="918.45" stroke="#000" stroke-width="4.8"/>
<line x1="1403.3" y1="883.8" x2="1422" y2="883.8" stroke="#000" stroke-width="4.8"/>
<line x1="1410" y1="849.15" x2="1422" y2="849.15" stroke="#000" stroke-width="4.8"/>
<line x1="1403.3" y1="814.5" x2="1422" y2="814.5" stroke="#000" stroke-width="4.8"/>
<line x1="1403.3" y1="779.85" x2="1422" y2="779.85" stroke="#000" stroke-width="4.8"/>
<line x1="1403.3" y1="745.2" x2="1422" y2="745.2" stroke="#000" stroke-width="4.8"/>
<line x1="1410" y1="710.55" x2="1422" y2="710.55" stroke="#000" stroke-width="4.8"/>
<line x1="1403.3" y1="675.9" x2="1422" y2="675.9" stroke="#000" stroke-width="4.8"/>
<line x1="1410" y1="641.25" x2="1422" y2="641.25" stroke="#000" stroke-width="4.8"/>
<line x1="1403.3" y1="606.6" x2="1422" y2="606.6" stroke="#000" stroke-width="4.8"/>
<text transform="translate(1397.6 899.81) scale(1 1.04)" font-size="40.3" text-anchor="end">0.2</text>
<text transform="translate(1397.6 831.16) scale(1 1.04)" font-size="40.3" text-anchor="end">0.4</text>
<text transform="translate(1397.6 762.51) scale(1 1.04)" font-size="40.3" text-anchor="end">0.6</text>
<text transform="translate(1397.6 693.86) scale(1 1.04)" font-size="40.3" text-anchor="end">0.8</text>
<text transform="translate(1397.6 625.21) scale(1 1.04)" font-size="40.3" text-anchor="end">1.0</text>
<line x1="1502.5" y1="956.25" x2="1502.5" y2="971.75" stroke="#000" stroke-width="5"/>
<line x1="1688.25" y1="956.25" x2="1688.25" y2="971.75" stroke="#000" stroke-width="5"/>
<g fill="#fff" stroke="#ff800f" stroke-width="3.55" stroke-linejoin="miter">
<path d="M1464.57 781.17L1473.52 790.12L1464.57 799.07L1455.62 790.12Z"/>
<path d="M1472.08 765.66L1481.03 774.61L1472.08 783.56L1463.13 774.61Z"/>
<path d="M1464.57 756.65L1473.52 765.6L1464.57 774.55L1455.62 765.6Z"/>
<path d="M1473.33 749.9L1482.28 758.85L1473.33 767.8L1464.38 758.85Z"/>
<path d="M1459.57 737.39L1468.52 746.34L1459.57 755.29L1450.62 746.34Z"/>
<path d="M1483.33 724.89L1492.28 733.84L1483.33 742.79L1474.38 733.84Z"/>
<path d="M1453.32 723.14L1462.27 732.09L1453.32 741.04L1444.37 732.09Z"/>
<path d="M1468.07 717.38L1477.02 726.33L1468.07 735.28L1459.12 726.33Z"/>
<path d="M1476.58 712.38L1485.53 721.33L1476.58 730.28L1467.63 721.33Z"/>
<path d="M1468.07 702.37L1477.02 711.32L1468.07 720.27L1459.12 711.32Z"/>
<path d="M1468.07 681.11L1477.02 690.06L1468.07 699.01L1459.12 690.06Z"/>
</g>
<g fill="#3d55f5" fill-opacity="0.46" stroke="#000" stroke-width="2">
<circle cx="1542.11" cy="693.81" r="7.2"/>
<circle cx="1551.62" cy="707.07" r="7.2"/>
<circle cx="1542.11" cy="717.08" r="7.2"/>
<circle cx="1532.61" cy="723.08" r="7.2"/>
<circle cx="1523.35" cy="732.09" r="7.2"/>
<circle cx="1551.62" cy="732.09" r="7.2"/>
<circle cx="1532.61" cy="742.59" r="7.2"/>
<circle cx="1542.62" cy="742.59" r="7.2"/>
<circle cx="1523.35" cy="766.35" r="7.2"/>
<circle cx="1551.62" cy="769.61" r="7.2"/>
<circle cx="1541.61" cy="774.61" r="7.2"/>
<circle cx="1523.35" cy="786.37" r="7.2"/>
</g>
<g fill="#fff" stroke="#ff800f" stroke-width="3.55" stroke-linejoin="miter">
<path d="M1657.18 738.14L1666.13 747.09L1657.18 756.04L1648.23 747.09Z"/>
<path d="M1638.42 733.14L1647.37 742.09L1638.42 751.04L1629.47 742.09Z"/>
<path d="M1668.44 733.14L1677.39 742.09L1668.44 751.04L1659.49 742.09Z"/>
<path d="M1649.68 731.14L1658.63 740.09L1649.68 749.04L1640.73 740.09Z"/>
<path d="M1638.42 713.63L1647.37 722.58L1638.42 731.53L1629.47 722.58Z"/>
<path d="M1652.93 713.63L1661.88 722.58L1652.93 731.53L1643.98 722.58Z"/>
<path d="M1662.18 711.13L1671.13 720.08L1662.18 729.03L1653.23 720.08Z"/>
<path d="M1668.44 708.63L1677.39 717.58L1668.44 726.53L1659.49 717.58Z"/>
<path d="M1655.43 699.87L1664.38 708.82L1655.43 717.77L1646.48 708.82Z"/>
<path d="M1645.92 694.37L1654.87 703.32L1645.92 712.27L1636.97 703.32Z"/>
<path d="M1659.68 693.62L1668.63 702.57L1659.68 711.52L1650.73 702.57Z"/>
<path d="M1652.93 684.86L1661.88 693.81L1652.93 702.76L1643.98 693.81Z"/>
</g>
<g fill="#3d55f5" fill-opacity="0.46" stroke="#000" stroke-width="2">
<circle cx="1722.22" cy="693.31" r="7.2"/>
<circle cx="1722.22" cy="694.31" r="7.2"/>
<circle cx="1726.72" cy="718.83" r="7.2"/>
<circle cx="1718.46" cy="723.83" r="7.2"/>
<circle cx="1723.47" cy="722.58" r="7.2"/>
<circle cx="1712.21" cy="733.09" r="7.2"/>
<circle cx="1735.97" cy="735.09" r="7.2"/>
<circle cx="1731.72" cy="735.09" r="7.2"/>
<circle cx="1707.21" cy="744.59" r="7.2"/>
<circle cx="1722.22" cy="745.09" r="7.2"/>
<circle cx="1727.22" cy="743.84" r="7.2"/>
<circle cx="1719.71" cy="760.1" r="7.2"/>
<circle cx="1724.22" cy="773.86" r="7.2"/>
<circle cx="1719.71" cy="776.36" r="7.2"/>
<circle cx="1722.22" cy="814.63" r="7.2"/>
</g>
<g fill="none" stroke="#000" stroke-width="1.65">
<path d="M1446.08 951.35V742.08H1489.92V951.35"/>
<path d="M1515.58 951.35V741.58H1559.42V951.35"/>
<path d="M1631.08 951.35V724.58H1674.92V951.35"/>
<path d="M1700.33 951.35V742.08H1744.17V951.35"/>
</g>
<g stroke="#000" stroke-width="3.5" fill="none" stroke-linecap="round">
<path d="M1456.7 733.25H1479.3M1456.7 748H1479.3M1468 733.25V748"/>
<path d="M1526.45 731.75H1549.05M1526.45 748.75H1549.05M1537.75 731.75V748.75"/>
<path d="M1641.45 719.25H1664.05M1641.45 727H1664.05M1652.75 719.25V727"/>
<path d="M1710.7 733H1733.3M1710.7 747.5H1733.3M1722 733V747.5"/>
</g>
<line x1="1431.5" y1="780.2" x2="1767" y2="780.2" stroke="#000" stroke-width="3.4" stroke-dasharray="0.01 7.25" stroke-linecap="round"/>
<path d="M1537.1 628.8V612.5H1612.2M1649.7 612.5H1724V628.8" fill="none" stroke="#000" stroke-width="3.3" stroke-linecap="round" stroke-linejoin="miter"/>
<text x="1630.9" y="620.5" font-size="29.2" text-anchor="middle">ns</text>
<path d="M1467.6 654.5V640.5H1542.1M1580.9 640.5H1654.2V649.5" fill="none" stroke="#000" stroke-width="3.3" stroke-linecap="round" stroke-linejoin="miter"/>
<text x="1561.6" y="648.5" font-size="29.2" text-anchor="middle">ns</text>
<path d="M1467.6 675V665.5H1483.3M1522.1 665.5H1537.9V678.8" fill="none" stroke="#000" stroke-width="3.3" stroke-linecap="round" stroke-linejoin="miter"/>
<text x="1503.3" y="673.5" font-size="29.2" text-anchor="middle">ns</text>
<path d="M1653.4 673.8V659.5H1674.7M1701 659.5H1724V677.5" fill="none" stroke="#000" stroke-width="3.3" stroke-linecap="round" stroke-linejoin="miter"/>
<text x="1688.4" y="676.3" font-size="33.4" font-weight="bold" text-anchor="middle">*</text>
<text transform="translate(1501.4 1016.3) scale(1 1.03)" font-size="50" text-anchor="middle">ad-lib</text>
<text transform="translate(1683.2 1016.3) scale(1 1.04)" font-size="50" text-anchor="middle">RF</text>
<text transform="translate(1391 1067.5) scale(1 1.03)" font-size="50">Feeding condition</text>
<text transform="translate(158.8 1237) scale(1 1.035)" font-size="74" font-weight="bold">E</text>
<rect x="162.2" y="1500.95" width="32.6" height="30.5" fill="#fddcbb"/>
<rect x="214.7" y="1486.45" width="32.35" height="45" fill="#c0c6fb"/>
<rect x="302.2" y="1480.45" width="32.35" height="51" fill="#fddcbb"/>
<rect x="354.2" y="1487.2" width="32.35" height="44.25" fill="#c0c6fb"/>
<rect x="441.7" y="1494.7" width="32.35" height="36.75" fill="#fddcbb"/>
<rect x="494.2" y="1482.95" width="32.35" height="48.5" fill="#c0c6fb"/>
<rect x="581.45" y="1475.95" width="32.1" height="55.5" fill="#fddcbb"/>
<rect x="633.45" y="1440.2" width="32.6" height="91.25" fill="#c0c6fb"/>
<path d="M143.75 1530.5V1169.5H685V1534.5" fill="none" stroke="#000" stroke-width="5.5" stroke-linejoin="miter"/>
<line x1="125" y1="1530.5" x2="687.5" y2="1530.5" stroke="#000" stroke-width="5"/>
<line x1="125" y1="1169.5" x2="143.75" y2="1169.5" stroke="#000" stroke-width="5"/>
<line x1="131.8" y1="1485.38" x2="143.75" y2="1485.38" stroke="#000" stroke-width="4.8"/>
<line x1="125" y1="1440.25" x2="143.75" y2="1440.25" stroke="#000" stroke-width="4.8"/>
<line x1="131.8" y1="1395.12" x2="143.75" y2="1395.12" stroke="#000" stroke-width="4.8"/>
<line x1="125" y1="1350" x2="143.75" y2="1350" stroke="#000" stroke-width="4.8"/>
<line x1="131.8" y1="1304.88" x2="143.75" y2="1304.88" stroke="#000" stroke-width="4.8"/>
<line x1="125" y1="1259.75" x2="143.75" y2="1259.75" stroke="#000" stroke-width="4.8"/>
<line x1="131.8" y1="1214.62" x2="143.75" y2="1214.62" stroke="#000" stroke-width="4.8"/>
<text transform="translate(122.3 1455.4) scale(1 1.04)" font-size="41.5" text-anchor="end">10</text>
<text transform="translate(122.3 1365.15) scale(1 1.04)" font-size="41.5" text-anchor="end">20</text>
<text transform="translate(122.3 1274.9) scale(1 1.04)" font-size="41.5" text-anchor="end">30</text>
<text transform="translate(122.3 1184.65) scale(1 1.04)" font-size="41.5" text-anchor="end">40</text>
<line x1="204.5" y1="1533" x2="204.5" y2="1542.5" stroke="#000" stroke-width="5"/>
<line x1="344.25" y1="1533" x2="344.25" y2="1542.5" stroke="#000" stroke-width="5"/>
<line x1="483.75" y1="1533" x2="483.75" y2="1542.5" stroke="#000" stroke-width="5"/>
<line x1="623.25" y1="1533" x2="623.25" y2="1542.5" stroke="#000" stroke-width="5"/>
<g fill="#fff" stroke="#ff800f" stroke-width="4.0" stroke-linejoin="miter">
<path d="M183.85 1513.26L192.05 1521.46L183.85 1529.66L175.65 1521.46Z"/>
<path d="M170.1 1511.51L178.3 1519.71L170.1 1527.91L161.9 1519.71Z"/>
<path d="M186.35 1503.76L194.55 1511.96L186.35 1520.16L178.15 1511.96Z"/>
<path d="M177.6 1502.01L185.8 1510.21L177.6 1518.41L169.4 1510.21Z"/>
<path d="M170.1 1492L178.3 1500.2L170.1 1508.4L161.9 1500.2Z"/>
<path d="M187.61 1488.25L195.81 1496.45L187.61 1504.65L179.41 1496.45Z"/>
<path d="M178.85 1487L187.05 1495.2L178.85 1503.4L170.65 1495.2Z"/>
<path d="M183.85 1478.99L192.05 1487.19L183.85 1495.39L175.65 1487.19Z"/>
<path d="M176.35 1471.49L184.55 1479.69L176.35 1487.89L168.15 1479.69Z"/>
<path d="M180.1 1461.99L188.3 1470.19L180.1 1478.39L171.9 1470.19Z"/>
</g>
<g fill="#3d55f5" fill-opacity="0.46" stroke="#0909f2" stroke-width="2.3">
<circle cx="230.63" cy="1398.14" r="7.2"/>
<circle cx="230.63" cy="1438.92" r="7.2"/>
<circle cx="230.63" cy="1447.67" r="7.2"/>
<circle cx="230.63" cy="1478.94" r="7.2"/>
<circle cx="226.38" cy="1495.2" r="7.2"/>
<circle cx="235.13" cy="1497.7" r="7.2"/>
<circle cx="225.13" cy="1502.2" r="7.2"/>
<circle cx="230.13" cy="1503.95" r="7.2"/>
<circle cx="237.63" cy="1506.46" r="7.2"/>
<circle cx="220.12" cy="1513.96" r="7.2"/>
<circle cx="232.63" cy="1507.71" r="7.2"/>
<circle cx="235.13" cy="1518.96" r="7.2"/>
<circle cx="240.13" cy="1507.71" r="7.2"/>
</g>
<g fill="#fff" stroke="#ff800f" stroke-width="4.0" stroke-linejoin="miter">
<path d="M312.68 1509.51L320.88 1517.71L312.68 1525.91L304.48 1517.71Z"/>
<path d="M323.93 1504.01L332.13 1512.21L323.93 1520.41L315.73 1512.21Z"/>
<path d="M318.18 1492L326.38 1500.2L318.18 1508.4L309.98 1500.2Z"/>
<path d="M318.18 1482L326.38 1490.2L318.18 1498.4L309.98 1490.2Z"/>
<path d="M325.18 1479.49L333.38 1487.69L325.18 1495.89L316.98 1487.69Z"/>
<path d="M310.17 1475.74L318.37 1483.94L310.17 1492.14L301.97 1483.94Z"/>
<path d="M321.43 1443.97L329.63 1452.17L321.43 1460.37L313.23 1452.17Z"/>
<path d="M315.68 1441.97L323.88 1450.17L315.68 1458.37L307.48 1450.17Z"/>
<path d="M315.68 1435.72L323.88 1443.92L315.68 1452.12L307.48 1443.92Z"/>
<path d="M320.68 1423.96L328.88 1432.16L320.68 1440.36L312.48 1432.16Z"/>
</g>
<g fill="#3d55f5" fill-opacity="0.46" stroke="#0909f2" stroke-width="2.3">
<circle cx="370.71" cy="1450.92" r="7.2"/>
<circle cx="370.21" cy="1465.18" r="7.2"/>
<circle cx="365.7" cy="1467.68" r="7.2"/>
<circle cx="374.71" cy="1473.19" r="7.2"/>
<circle cx="363.95" cy="1477.69" r="7.2"/>
<circle cx="370.21" cy="1476.44" r="7.2"/>
<circle cx="375.21" cy="1492.7" r="7.2"/>
<circle cx="365.2" cy="1500.2" r="7.2"/>
<circle cx="371.46" cy="1501.45" r="7.2"/>
<circle cx="376.46" cy="1502.2" r="7.2"/>
<circle cx="361.45" cy="1510.21" r="7.2"/>
<circle cx="378.96" cy="1512.71" r="7.2"/>
<circle cx="370.21" cy="1502.7" r="7.2"/>
</g>
<g fill="#fff" stroke="#ff800f" stroke-width="4.0" stroke-linejoin="miter">
<path d="M460.09 1512.01L468.29 1520.21L460.09 1528.41L451.89 1520.21Z"/>
<path d="M448.83 1507.01L457.03 1515.21L448.83 1523.41L440.63 1515.21Z"/>
<path d="M470.1 1507.01L478.3 1515.21L470.1 1523.41L461.9 1515.21Z"/>
<path d="M458.09 1497L466.29 1505.2L458.09 1513.4L449.89 1505.2Z"/>
<path d="M452.59 1487L460.79 1495.2L452.59 1503.4L444.39 1495.2Z"/>
<path d="M458.09 1469.49L466.29 1477.69L458.09 1485.89L449.89 1477.69Z"/>
<path d="M458.09 1451.23L466.29 1459.43L458.09 1467.63L449.89 1459.43Z"/>
<path d="M458.09 1405.7L466.29 1413.9L458.09 1422.1L449.89 1413.9Z"/>
</g>
<g fill="#3d55f5" fill-opacity="0.46" stroke="#0909f2" stroke-width="2.3">
<circle cx="510.62" cy="1437.67" r="7.2"/>
<circle cx="510.62" cy="1453.93" r="7.2"/>
<circle cx="515.62" cy="1463.18" r="7.2"/>
<circle cx="505.11" cy="1472.69" r="7.2"/>
<circle cx="500.11" cy="1477.69" r="7.2"/>
<circle cx="512.62" cy="1476.44" r="7.2"/>
<circle cx="507.62" cy="1492.7" r="7.2"/>
<circle cx="518.87" cy="1491.45" r="7.2"/>
<circle cx="510.12" cy="1503.95" r="7.2"/>
<circle cx="505.11" cy="1514.46" r="7.2"/>
<circle cx="516.37" cy="1513.96" r="7.2"/>
</g>
<g fill="#fff" stroke="#ff800f" stroke-width="4.0" stroke-linejoin="miter">
<path d="M602.67 1513.26L610.87 1521.46L602.67 1529.66L594.47 1521.46Z"/>
<path d="M587.66 1510.76L595.86 1518.96L587.66 1527.16L579.46 1518.96Z"/>
<path d="M595.17 1507.01L603.37 1515.21L595.17 1523.41L586.97 1515.21Z"/>
<path d="M605.17 1499.51L613.37 1507.71L605.17 1515.91L596.97 1507.71Z"/>
<path d="M602.67 1494.5L610.87 1502.7L602.67 1510.9L594.47 1502.7Z"/>
<path d="M592.66 1493.25L600.86 1501.45L592.66 1509.65L584.46 1501.45Z"/>
<path d="M597.67 1487L605.87 1495.2L597.67 1503.4L589.47 1495.2Z"/>
<path d="M597.67 1445.73L605.87 1453.93L597.67 1462.13L589.47 1453.93Z"/>
<path d="M600.17 1438.22L608.37 1446.42L600.17 1454.62L591.97 1446.42Z"/>
<path d="M591.41 1435.72L599.61 1443.92L591.41 1452.12L583.21 1443.92Z"/>
<path d="M603.92 1425.71L612.12 1433.91L603.92 1442.11L595.72 1433.91Z"/>
<path d="M597.67 1423.21L605.87 1431.41L597.67 1439.61L589.47 1431.41Z"/>
<path d="M597.67 1375.69L605.87 1383.89L597.67 1392.09L589.47 1383.89Z"/>
</g>
<g fill="#3d55f5" fill-opacity="0.46" stroke="#0909f2" stroke-width="2.3">
<circle cx="649.7" cy="1328.11" r="7.2"/>
<circle cx="649.7" cy="1343.11" r="7.2"/>
<circle cx="649.7" cy="1407.65" r="7.2"/>
<circle cx="645.69" cy="1415.15" r="7.2"/>
<circle cx="653.95" cy="1427.16" r="7.2"/>
<circle cx="649.7" cy="1452.68" r="7.2"/>
<circle cx="641.44" cy="1482.69" r="7.2"/>
<circle cx="658.2" cy="1478.94" r="7.2"/>
<circle cx="649.7" cy="1481.44" r="7.2"/>
<circle cx="649.7" cy="1487.69" r="7.2"/>
<circle cx="649.7" cy="1520.96" r="7.2"/>
</g>
<g fill="none" stroke="#000" stroke-width="1.9">
<path d="M162.2 1528.1V1500.95H194.8V1528.1"/>
<path d="M214.7 1528.1V1486.45H247.05V1528.1"/>
<path d="M302.2 1528.1V1480.45H334.55V1528.1"/>
<path d="M354.2 1528.1V1487.2H386.55V1528.1"/>
<path d="M441.7 1528.1V1494.7H474.05V1528.1"/>
<path d="M494.2 1528.1V1482.95H526.55V1528.1"/>
<path d="M581.45 1528.1V1475.95H613.55V1528.1"/>
<path d="M633.45 1528.1V1440.2H666.05V1528.1"/>
</g>
<g stroke="#000" stroke-width="3.5" fill="none" stroke-linecap="round">
<path d="M169.15 1496H187.35M169.15 1504H187.35M178.25 1496V1504"/>
<path d="M221.4 1474.5H239.6M221.4 1494.5H239.6M230.5 1474.5V1494.5"/>
<path d="M308.9 1470.5H327.1M308.9 1487.5H327.1M318 1470.5V1487.5"/>
<path d="M360.9 1480H379.1M360.9 1491.25H379.1M370 1480V1491.25"/>
<path d="M448.9 1485.5H467.1M448.9 1501.25H467.1M458 1485.5V1501.25"/>
<path d="M501.4 1475H519.6M501.4 1488H519.6M510.5 1475V1488"/>
<path d="M588.4 1462.5H606.6M588.4 1486.25H606.6M597.5 1462.5V1486.25"/>
<path d="M640.4 1420H658.6M640.4 1457H658.6M649.5 1420V1457"/>
</g>
<path d="M595.7 1354.6V1299.3H614.7M638.9 1299.3H651.9V1312.1" fill="none" stroke="#000" stroke-width="3.3" stroke-linecap="round" stroke-linejoin="miter"/>
<text x="627.2" y="1316.1" font-size="33.4" font-weight="bold" text-anchor="middle">*</text>
<rect x="151.25" y="1543.2" width="53.25" height="136.3" fill="#fff15c" stroke="#c9c270" stroke-width="1"/>
<rect x="204.5" y="1543.2" width="54.25" height="136.3" fill="#fff15c" stroke="#c9c270" stroke-width="1"/>
<line x1="150.45" y1="1543.2" x2="259.55" y2="1543.2" stroke="#000" stroke-width="3.6"/>
<line x1="150.45" y1="1679.5" x2="259.55" y2="1679.5" stroke="#000" stroke-width="3.2"/>
<rect x="291.25" y="1543.2" width="53" height="136.3" fill="#d0d0d0" stroke="#8f8f8f" stroke-width="1"/>
<rect x="344.25" y="1543.2" width="53.25" height="136.3" fill="#d0d0d0" stroke="#8f8f8f" stroke-width="1"/>
<line x1="290.45" y1="1543.2" x2="398.3" y2="1543.2" stroke="#000" stroke-width="3.6"/>
<line x1="290.45" y1="1679.5" x2="398.3" y2="1679.5" stroke="#000" stroke-width="3.2"/>
<rect x="431.75" y="1543.2" width="52.75" height="136.3" fill="#d0d0d0" stroke="#8f8f8f" stroke-width="1"/>
<rect x="484.5" y="1543.2" width="52.5" height="136.3" fill="#fff15c" stroke="#c9c270" stroke-width="1"/>
<line x1="430.95" y1="1543.2" x2="537.8" y2="1543.2" stroke="#000" stroke-width="3.6"/>
<line x1="430.95" y1="1679.5" x2="537.8" y2="1679.5" stroke="#000" stroke-width="3.2"/>
<rect x="570.75" y="1543.2" width="53" height="136.3" fill="#d0d0d0" stroke="#8f8f8f" stroke-width="1"/>
<rect x="623.75" y="1543.2" width="53" height="136.3" fill="#fff15c" stroke="#c9c270" stroke-width="1"/>
<line x1="569.95" y1="1543.2" x2="677.55" y2="1543.2" stroke="#000" stroke-width="3.6"/>
<line x1="569.95" y1="1679.5" x2="677.55" y2="1679.5" stroke="#000" stroke-width="3.2"/>
<g font-size="44.6" text-anchor="middle">
<text transform="translate(177.88 1580.4) scale(1 1.04)">9</text>
<text transform="translate(231.62 1580.4) scale(1 1.04)">9</text>
<text transform="translate(317.75 1580.4) scale(1 1.04)">15</text>
<text transform="translate(370.88 1580.4) scale(1 1.04)">15</text>
<text transform="translate(458.12 1580.4) scale(1 1.04)">21</text>
<text transform="translate(510.75 1580.4) scale(1 1.04)">21</text>
<text transform="translate(597.25 1580.4) scale(1 1.04)">3</text>
<text transform="translate(650.25 1580.4) scale(1 1.04)">3</text>
<text transform="translate(177.88 1626) scale(1 1.04)">0</text>
<text transform="translate(231.62 1626) scale(1 1.04)">6</text>
<text transform="translate(317.75 1626) scale(1 1.04)">6</text>
<text transform="translate(370.88 1626) scale(1 1.04)">12</text>
<text transform="translate(458.12 1626) scale(1 1.04)">12</text>
<text transform="translate(510.75 1626) scale(1 1.04)">18</text>
<text transform="translate(597.25 1626) scale(1 1.04)">18</text>
<text transform="translate(650.25 1626) scale(1 1.04)">0</text>
<text transform="translate(177.88 1672.6) scale(1 1.04)">L</text>
<text transform="translate(231.62 1672.6) scale(1 1.04)">L</text>
<text transform="translate(317.75 1672.6) scale(1 1.04)">D</text>
<text transform="translate(370.88 1672.6) scale(1 1.04)">D</text>
<text transform="translate(458.12 1672.6) scale(1 1.04)">D</text>
<text transform="translate(510.75 1672.6) scale(1 1.04)">L</text>
<text transform="translate(597.25 1672.6) scale(1 1.04)">D</text>
<text transform="translate(650.25 1672.6) scale(1 1.04)">L</text>
</g>
<text transform="translate(145.3 1580.4) scale(1 1.02)" font-size="44.5" text-anchor="end">ZT:</text>
<text transform="translate(147 1626) scale(1 1.02)" font-size="44.5" text-anchor="end">ExT:</text>
<text transform="translate(147.5 1672.6) scale(1 1.02)" font-size="49.6" text-anchor="end">Light:</text>
<text transform="translate(41.3 1550.8) rotate(-90) scale(1 1.03)" font-size="49.7">Exploration (secs)</text>
<text transform="translate(794.5 1237) scale(1 1.035)" font-size="74" font-weight="bold">F</text>
<rect x="802.58" y="1415.83" width="32.35" height="114.5" fill="#fddcbb"/>
<rect x="855.08" y="1476.58" width="32.1" height="53.75" fill="#c0c6fb"/>
<rect x="942.08" y="1389.08" width="32.1" height="141.25" fill="#fddcbb"/>
<rect x="994.08" y="1448.33" width="32.1" height="82" fill="#c0c6fb"/>
<rect x="1081.33" y="1389.08" width="32.35" height="141.25" fill="#fddcbb"/>
<rect x="1133.58" y="1404.58" width="32.6" height="125.75" fill="#c0c6fb"/>
<rect x="1220.83" y="1403.33" width="32.1" height="127" fill="#fddcbb"/>
<rect x="1273.33" y="1429.08" width="32.1" height="101.25" fill="#c0c6fb"/>
<path d="M783.75 1529.5V1167.75H1324V1533.5" fill="none" stroke="#000" stroke-width="5.5" stroke-linejoin="miter"/>
<line x1="765.5" y1="1529.5" x2="1326.5" y2="1529.5" stroke="#000" stroke-width="5"/>
<line x1="765.5" y1="1167.75" x2="783.75" y2="1167.75" stroke="#000" stroke-width="5"/>
<line x1="772.5" y1="1484.08" x2="783.75" y2="1484.08" stroke="#000" stroke-width="4.8"/>
<line x1="765.5" y1="1438.86" x2="783.75" y2="1438.86" stroke="#000" stroke-width="4.8"/>
<line x1="772.5" y1="1393.64" x2="783.75" y2="1393.64" stroke="#000" stroke-width="4.8"/>
<line x1="765.5" y1="1348.42" x2="783.75" y2="1348.42" stroke="#000" stroke-width="4.8"/>
<line x1="772.5" y1="1303.2" x2="783.75" y2="1303.2" stroke="#000" stroke-width="4.8"/>
<line x1="765.5" y1="1257.98" x2="783.75" y2="1257.98" stroke="#000" stroke-width="4.8"/>
<line x1="772.5" y1="1212.76" x2="783.75" y2="1212.76" stroke="#000" stroke-width="4.8"/>
<text transform="translate(763.2 1454.01) scale(1 1.04)" font-size="41.5" text-anchor="end">10</text>
<text transform="translate(763.2 1363.57) scale(1 1.04)" font-size="41.5" text-anchor="end">20</text>
<text transform="translate(763.2 1273.13) scale(1 1.04)" font-size="41.5" text-anchor="end">30</text>
<text transform="translate(763.2 1182.69) scale(1 1.04)" font-size="41.5" text-anchor="end">40</text>
<line x1="844.25" y1="1532" x2="844.25" y2="1541.5" stroke="#000" stroke-width="5"/>
<line x1="983.5" y1="1532" x2="983.5" y2="1541.5" stroke="#000" stroke-width="5"/>
<line x1="1123.5" y1="1532" x2="1123.5" y2="1541.5" stroke="#000" stroke-width="5"/>
<line x1="1262.5" y1="1532" x2="1262.5" y2="1541.5" stroke="#000" stroke-width="5"/>
<g fill="#fff" stroke="#ff800f" stroke-width="3.55" stroke-linejoin="miter">
<path d="M813.83 1505.01L822.78 1513.96L813.83 1522.91L804.88 1513.96Z"/>
<path d="M822.58 1493.75L831.53 1502.7L822.58 1511.65L813.63 1502.7Z"/>
<path d="M808.82 1486.25L817.77 1495.2L808.82 1504.15L799.87 1495.2Z"/>
<path d="M828.83 1485L837.78 1493.95L828.83 1502.9L819.88 1493.95Z"/>
<path d="M817.58 1483.75L826.53 1492.7L817.58 1501.65L808.63 1492.7Z"/>
<path d="M818.83 1466.24L827.78 1475.19L818.83 1484.14L809.88 1475.19Z"/>
<path d="M823.83 1442.47L832.78 1451.42L823.83 1460.37L814.88 1451.42Z"/>
<path d="M813.83 1437.47L822.78 1446.42L813.83 1455.37L804.88 1446.42Z"/>
<path d="M808.82 1419.96L817.77 1428.91L808.82 1437.86L799.87 1428.91Z"/>
<path d="M827.58 1414.96L836.53 1423.91L827.58 1432.86L818.63 1423.91Z"/>
<path d="M818.83 1381.19L827.78 1390.14L818.83 1399.09L809.88 1390.14Z"/>
<path d="M813.83 1373.19L822.78 1382.14L813.83 1391.09L804.88 1382.14Z"/>
<path d="M822.58 1361.18L831.53 1370.13L822.58 1379.08L813.63 1370.13Z"/>
<path d="M813.83 1329.16L822.78 1338.11L813.83 1347.06L804.88 1338.11Z"/>
<path d="M822.58 1324.91L831.53 1333.86L822.58 1342.81L813.63 1333.86Z"/>
</g>
<g fill="#3d55f5" fill-opacity="0.46" stroke="#000" stroke-width="2">
<circle cx="874.61" cy="1417.66" r="7.2"/>
<circle cx="870.11" cy="1420.16" r="7.2"/>
<circle cx="866.35" cy="1425.91" r="7.2"/>
<circle cx="870.86" cy="1442.17" r="7.2"/>
<circle cx="866.35" cy="1451.42" r="7.2"/>
<circle cx="875.11" cy="1457.18" r="7.2"/>
<circle cx="870.86" cy="1458.93" r="7.2"/>
<circle cx="872.61" cy="1477.69" r="7.2"/>
<circle cx="867.61" cy="1480.19" r="7.2"/>
<circle cx="866.35" cy="1492.7" r="7.2"/>
<circle cx="875.11" cy="1492.7" r="7.2"/>
<circle cx="867.61" cy="1503.95" r="7.2"/>
<circle cx="873.86" cy="1510.21" r="7.2"/>
<circle cx="862.1" cy="1516.46" r="7.2"/>
<circle cx="878.86" cy="1520.21" r="7.2"/>
<circle cx="870.11" cy="1505.2" r="7.2"/>
</g>
<g fill="#fff" stroke="#ff800f" stroke-width="3.55" stroke-linejoin="miter">
<path d="M948.9 1496.75L957.85 1505.7L948.9 1514.65L939.95 1505.7Z"/>
<path d="M960.66 1496.75L969.61 1505.7L960.66 1514.65L951.71 1505.7Z"/>
<path d="M966.41 1491.75L975.36 1500.7L966.41 1509.65L957.46 1500.7Z"/>
<path d="M953.9 1483.75L962.85 1492.7L953.9 1501.65L944.95 1492.7Z"/>
<path d="M957.66 1465.74L966.61 1474.69L957.66 1483.64L948.71 1474.69Z"/>
<path d="M957.66 1427.47L966.61 1436.42L957.66 1445.37L948.71 1436.42Z"/>
<path d="M957.66 1418.71L966.61 1427.66L957.66 1436.61L948.71 1427.66Z"/>
<path d="M953.9 1402.45L962.85 1411.4L953.9 1420.35L944.95 1411.4Z"/>
<path d="M961.41 1394.95L970.36 1403.9L961.41 1412.85L952.46 1403.9Z"/>
<path d="M957.66 1388.69L966.61 1397.64L957.66 1406.59L948.71 1397.64Z"/>
<path d="M957.66 1341.17L966.61 1350.12L957.66 1359.07L948.71 1350.12Z"/>
<path d="M957.66 1329.91L966.61 1338.86L957.66 1347.81L948.71 1338.86Z"/>
<path d="M957.66 1300.65L966.61 1309.6L957.66 1318.55L948.71 1309.6Z"/>
<path d="M957.66 1267.38L966.61 1276.33L957.66 1285.28L948.71 1276.33Z"/>
<path d="M953.9 1252.87L962.85 1261.82L953.9 1270.77L944.95 1261.82Z"/>
<path d="M960.66 1246.11L969.61 1255.06L960.66 1264.01L951.71 1255.06Z"/>
<path d="M957.66 1231.11L966.61 1240.06L957.66 1249.01L948.71 1240.06Z"/>
</g>
<g fill="#3d55f5" fill-opacity="0.46" stroke="#000" stroke-width="2">
<circle cx="1014.69" cy="1353.37" r="7.2"/>
<circle cx="1005.68" cy="1355.62" r="7.2"/>
<circle cx="1010.19" cy="1401.4" r="7.2"/>
<circle cx="1001.43" cy="1438.42" r="7.2"/>
<circle cx="1018.94" cy="1453.93" r="7.2"/>
<circle cx="1001.43" cy="1457.68" r="7.2"/>
<circle cx="1018.94" cy="1473.94" r="7.2"/>
<circle cx="1001.43" cy="1483.94" r="7.2"/>
<circle cx="1010.19" cy="1490.7" r="7.2"/>
<circle cx="1018.19" cy="1493.95" r="7.2"/>
<circle cx="1001.43" cy="1509.71" r="7.2"/>
</g>
<g fill="#fff" stroke="#ff800f" stroke-width="3.55" stroke-linejoin="miter">
<path d="M1093.05 1477.49L1102 1486.44L1093.05 1495.39L1084.1 1486.44Z"/>
<path d="M1102.06 1475.74L1111.01 1484.69L1102.06 1493.64L1093.11 1484.69Z"/>
<path d="M1097.55 1451.23L1106.5 1460.18L1097.55 1469.13L1088.6 1460.18Z"/>
<path d="M1093.05 1438.22L1102 1447.17L1093.05 1456.12L1084.1 1447.17Z"/>
<path d="M1101.31 1426.97L1110.26 1435.92L1101.31 1444.87L1092.36 1435.92Z"/>
<path d="M1087.55 1414.96L1096.5 1423.91L1087.55 1432.86L1078.6 1423.91Z"/>
<path d="M1107.56 1413.71L1116.51 1422.66L1107.56 1431.61L1098.61 1422.66Z"/>
<path d="M1102.56 1406.2L1111.51 1415.15L1102.56 1424.1L1093.61 1415.15Z"/>
<path d="M1092.55 1399.95L1101.5 1408.9L1092.55 1417.85L1083.6 1408.9Z"/>
<path d="M1097.55 1368.68L1106.5 1377.63L1097.55 1386.58L1088.6 1377.63Z"/>
<path d="M1097.55 1352.42L1106.5 1361.37L1097.55 1370.32L1088.6 1361.37Z"/>
<path d="M1092.55 1342.42L1101.5 1351.37L1092.55 1360.32L1083.6 1351.37Z"/>
<path d="M1102.56 1338.17L1111.51 1347.12L1102.56 1356.07L1093.61 1347.12Z"/>
<path d="M1092.55 1328.66L1101.5 1337.61L1092.55 1346.56L1083.6 1337.61Z"/>
<path d="M1102.06 1321.91L1111.01 1330.86L1102.06 1339.81L1093.11 1330.86Z"/>
<path d="M1097.55 1272.88L1106.5 1281.83L1097.55 1290.78L1088.6 1281.83Z"/>
<path d="M1097.55 1184.08L1106.5 1193.03L1097.55 1201.98L1088.6 1193.03Z"/>
</g>
<g fill="#3d55f5" fill-opacity="0.46" stroke="#000" stroke-width="2">
<circle cx="1149.58" cy="1323.85" r="7.2"/>
<circle cx="1154.34" cy="1351.37" r="7.2"/>
<circle cx="1145.58" cy="1354.62" r="7.2"/>
<circle cx="1154.34" cy="1373.88" r="7.2"/>
<circle cx="1145.58" cy="1378.88" r="7.2"/>
<circle cx="1158.09" cy="1382.64" r="7.2"/>
<circle cx="1149.58" cy="1387.64" r="7.2"/>
<circle cx="1141.33" cy="1396.39" r="7.2"/>
<circle cx="1141.33" cy="1407.15" r="7.2"/>
<circle cx="1158.09" cy="1410.65" r="7.2"/>
<circle cx="1149.58" cy="1409.65" r="7.2"/>
<circle cx="1145.58" cy="1420.16" r="7.2"/>
<circle cx="1154.34" cy="1433.91" r="7.2"/>
<circle cx="1149.58" cy="1435.92" r="7.2"/>
<circle cx="1149.58" cy="1455.18" r="7.2"/>
<circle cx="1158.09" cy="1461.43" r="7.2"/>
<circle cx="1141.33" cy="1471.44" r="7.2"/>
</g>
<g fill="#fff" stroke="#ff800f" stroke-width="3.55" stroke-linejoin="miter">
<path d="M1233.88 1481.25L1242.83 1490.2L1233.88 1499.15L1224.93 1490.2Z"/>
<path d="M1240.13 1478.74L1249.08 1487.69L1240.13 1496.64L1231.18 1487.69Z"/>
<path d="M1238.88 1462.49L1247.83 1471.44L1238.88 1480.39L1229.93 1471.44Z"/>
<path d="M1227.63 1461.24L1236.58 1470.19L1227.63 1479.14L1218.68 1470.19Z"/>
<path d="M1246.39 1452.48L1255.34 1461.43L1246.39 1470.38L1237.44 1461.43Z"/>
<path d="M1233.88 1449.98L1242.83 1458.93L1233.88 1467.88L1224.93 1458.93Z"/>
<path d="M1236.88 1433.72L1245.83 1442.67L1236.88 1451.62L1227.93 1442.67Z"/>
<path d="M1243.14 1421.21L1252.09 1430.16L1243.14 1439.11L1234.19 1430.16Z"/>
<path d="M1230.13 1416.21L1239.08 1425.16L1230.13 1434.11L1221.18 1425.16Z"/>
<path d="M1236.88 1402.45L1245.83 1411.4L1236.88 1420.35L1227.93 1411.4Z"/>
<path d="M1236.88 1386.69L1245.83 1395.64L1236.88 1404.59L1227.93 1395.64Z"/>
<path d="M1243.14 1361.18L1252.09 1370.13L1243.14 1379.08L1234.19 1370.13Z"/>
<path d="M1230.63 1360.68L1239.58 1369.63L1230.63 1378.58L1221.68 1369.63Z"/>
<path d="M1236.88 1356.18L1245.83 1365.13L1236.88 1374.08L1227.93 1365.13Z"/>
<path d="M1233.13 1318.66L1242.08 1327.61L1233.13 1336.56L1224.18 1327.61Z"/>
<path d="M1239.63 1311.15L1248.58 1320.1L1239.63 1329.05L1230.68 1320.1Z"/>
<path d="M1236.88 1278.63L1245.83 1287.58L1236.88 1296.53L1227.93 1287.58Z"/>
<path d="M1236.88 1222.35L1245.83 1231.3L1236.88 1240.25L1227.93 1231.3Z"/>
</g>
<g fill="#3d55f5" fill-opacity="0.46" stroke="#000" stroke-width="2">
<circle cx="1289.41" cy="1297.59" r="7.2"/>
<circle cx="1289.41" cy="1335.11" r="7.2"/>
<circle cx="1291.41" cy="1351.37" r="7.2"/>
<circle cx="1286.41" cy="1365.13" r="7.2"/>
<circle cx="1291.41" cy="1418.16" r="7.2"/>
<circle cx="1286.41" cy="1422.16" r="7.2"/>
<circle cx="1281.41" cy="1441.42" r="7.2"/>
<circle cx="1291.41" cy="1440.17" r="7.2"/>
<circle cx="1286.41" cy="1451.42" r="7.2"/>
<circle cx="1297.67" cy="1457.68" r="7.2"/>
<circle cx="1283.91" cy="1466.43" r="7.2"/>
<circle cx="1295.17" cy="1470.19" r="7.2"/>
<circle cx="1290.16" cy="1466.43" r="7.2"/>
<circle cx="1291.41" cy="1508.96" r="7.2"/>
<circle cx="1286.41" cy="1512.71" r="7.2"/>
</g>
<g fill="none" stroke="#000" stroke-width="1.65">
<path d="M802.58 1527.1V1415.83H834.92V1527.1"/>
<path d="M855.08 1527.1V1476.58H887.17V1527.1"/>
<path d="M942.08 1527.1V1389.08H974.17V1527.1"/>
<path d="M994.08 1527.1V1448.33H1026.17V1527.1"/>
<path d="M1081.33 1527.1V1389.08H1113.67V1527.1"/>
<path d="M1133.58 1527.1V1404.58H1166.17V1527.1"/>
<path d="M1220.83 1527.1V1403.33H1252.92V1527.1"/>
<path d="M1273.33 1527.1V1429.08H1305.42V1527.1"/>
</g>
<g stroke="#000" stroke-width="3.5" fill="none" stroke-linecap="round">
<path d="M809.15 1391.75H827.35M809.15 1437.5H827.35M818.25 1391.75V1437.5"/>
<path d="M861.65 1466.75H879.85M861.65 1484.5H879.85M870.75 1466.75V1484.5"/>
<path d="M948.4 1364.5H966.6M948.4 1410H966.6M957.5 1364.5V1410"/>
<path d="M1000.9 1430.5H1019.1M1000.9 1463.25H1019.1M1010 1430.5V1463.25"/>
<path d="M1088.4 1369.5H1106.6M1088.4 1405H1106.6M1097.5 1369.5V1405"/>
<path d="M1140.4 1393.75H1158.6M1140.4 1413H1158.6M1149.5 1393.75V1413"/>
<path d="M1227.65 1385.75H1245.85M1227.65 1418.25H1245.85M1236.75 1385.75V1418.25"/>
<path d="M1280.15 1412H1298.35M1280.15 1443H1298.35M1289.25 1412V1443"/>
</g>
<rect x="791.25" y="1543.2" width="53.25" height="136.3" fill="#fff15c" stroke="#c9c270" stroke-width="1"/>
<rect x="844.5" y="1543.2" width="54" height="136.3" fill="#fff15c" stroke="#c9c270" stroke-width="1"/>
<line x1="790.45" y1="1543.2" x2="899.3" y2="1543.2" stroke="#000" stroke-width="3.6"/>
<line x1="790.45" y1="1679.5" x2="899.3" y2="1679.5" stroke="#000" stroke-width="3.2"/>
<rect x="931" y="1543.2" width="53" height="136.3" fill="#d0d0d0" stroke="#8f8f8f" stroke-width="1"/>
<rect x="984" y="1543.2" width="53.5" height="136.3" fill="#d0d0d0" stroke="#8f8f8f" stroke-width="1"/>
<line x1="930.2" y1="1543.2" x2="1038.3" y2="1543.2" stroke="#000" stroke-width="3.6"/>
<line x1="930.2" y1="1679.5" x2="1038.3" y2="1679.5" stroke="#000" stroke-width="3.2"/>
<rect x="1071.5" y="1543.2" width="52.25" height="136.3" fill="#d0d0d0" stroke="#8f8f8f" stroke-width="1"/>
<rect x="1123.75" y="1543.2" width="53.5" height="136.3" fill="#fff15c" stroke="#c9c270" stroke-width="1"/>
<line x1="1070.7" y1="1543.2" x2="1178.05" y2="1543.2" stroke="#000" stroke-width="3.6"/>
<line x1="1070.7" y1="1679.5" x2="1178.05" y2="1679.5" stroke="#000" stroke-width="3.2"/>
<rect x="1210.5" y="1543.2" width="52.5" height="136.3" fill="#d0d0d0" stroke="#8f8f8f" stroke-width="1"/>
<rect x="1263" y="1543.2" width="53.5" height="136.3" fill="#fff15c" stroke="#c9c270" stroke-width="1"/>
<line x1="1209.7" y1="1543.2" x2="1317.3" y2="1543.2" stroke="#000" stroke-width="3.6"/>
<line x1="1209.7" y1="1679.5" x2="1317.3" y2="1679.5" stroke="#000" stroke-width="3.2"/>
<g font-size="44.6" text-anchor="middle">
<text transform="translate(817.88 1580.4) scale(1 1.04)">9</text>
<text transform="translate(871.5 1580.4) scale(1 1.04)">9</text>
<text transform="translate(957.5 1580.4) scale(1 1.04)">15</text>
<text transform="translate(1010.75 1580.4) scale(1 1.04)">15</text>
<text transform="translate(1097.62 1580.4) scale(1 1.04)">21</text>
<text transform="translate(1150.5 1580.4) scale(1 1.04)">21</text>
<text transform="translate(1236.75 1580.4) scale(1 1.04)">3</text>
<text transform="translate(1289.75 1580.4) scale(1 1.04)">3</text>
<text transform="translate(817.88 1626) scale(1 1.04)">0</text>
<text transform="translate(871.5 1626) scale(1 1.04)">6</text>
<text transform="translate(957.5 1626) scale(1 1.04)">6</text>
<text transform="translate(1010.75 1626) scale(1 1.04)">12</text>
<text transform="translate(1097.62 1626) scale(1 1.04)">12</text>
<text transform="translate(1150.5 1626) scale(1 1.04)">18</text>
<text transform="translate(1236.75 1626) scale(1 1.04)">18</text>
<text transform="translate(1289.75 1626) scale(1 1.04)">0</text>
<text transform="translate(817.88 1672.6) scale(1 1.04)">L</text>
<text transform="translate(871.5 1672.6) scale(1 1.04)">L</text>
<text transform="translate(957.5 1672.6) scale(1 1.04)">D</text>
<text transform="translate(1010.75 1672.6) scale(1 1.04)">D</text>
<text transform="translate(1097.62 1672.6) scale(1 1.04)">D</text>
<text transform="translate(1150.5 1672.6) scale(1 1.04)">L</text>
<text transform="translate(1236.75 1672.6) scale(1 1.04)">D</text>
<text transform="translate(1289.75 1672.6) scale(1 1.04)">L</text>
</g>
<text transform="translate(1430.6 1236.9) scale(1 1.065)" font-size="74" font-weight="bold">G</text>
<rect x="1439.2" y="1482.2" width="46.1" height="48.15" fill="#fddcbb"/>
<rect x="1512.2" y="1467.95" width="45.6" height="62.4" fill="#b4bcfa"/>
<rect x="1632.95" y="1381.45" width="45.6" height="148.9" fill="#fddcbb"/>
<rect x="1705.45" y="1429.2" width="45.6" height="101.15" fill="#b4bcfa"/>
<path d="M1421.8 1529.4V1171.8H1770V1533.4" fill="none" stroke="#000" stroke-width="5.5" stroke-linejoin="miter"/>
<line x1="1403.2" y1="1529.4" x2="1772.5" y2="1529.4" stroke="#000" stroke-width="5"/>
<line x1="1403.2" y1="1171.8" x2="1421.8" y2="1171.8" stroke="#000" stroke-width="5"/>
<line x1="1403.2" y1="1478.76" x2="1421.8" y2="1478.76" stroke="#000" stroke-width="4.8"/>
<line x1="1403.2" y1="1428.52" x2="1421.8" y2="1428.52" stroke="#000" stroke-width="4.8"/>
<line x1="1403.2" y1="1378.28" x2="1421.8" y2="1378.28" stroke="#000" stroke-width="4.8"/>
<line x1="1403.2" y1="1328.04" x2="1421.8" y2="1328.04" stroke="#000" stroke-width="4.8"/>
<line x1="1403.2" y1="1277.8" x2="1421.8" y2="1277.8" stroke="#000" stroke-width="4.8"/>
<line x1="1403.2" y1="1227.56" x2="1421.8" y2="1227.56" stroke="#000" stroke-width="4.8"/>
<text transform="translate(1398.6 1493.31) scale(1 1.04)" font-size="41.5" text-anchor="end">5</text>
<text transform="translate(1398.6 1392.83) scale(1 1.04)" font-size="41.5" text-anchor="end">15</text>
<text transform="translate(1398.6 1292.35) scale(1 1.04)" font-size="41.5" text-anchor="end">25</text>
<text transform="translate(1398.6 1192.15) scale(1 1.04)" font-size="41.5" text-anchor="end">35</text>
<line x1="1501.25" y1="1531.9" x2="1501.25" y2="1547.4" stroke="#000" stroke-width="5"/>
<line x1="1689.5" y1="1531.9" x2="1689.5" y2="1547.4" stroke="#000" stroke-width="5"/>
<g fill="#fff" stroke="#ff800f" stroke-width="3.55" stroke-linejoin="miter">
<path d="M1477.58 1506.26L1486.53 1515.21L1477.58 1524.16L1468.63 1515.21Z"/>
<path d="M1462.07 1497.51L1471.02 1506.46L1462.07 1515.41L1453.12 1506.46Z"/>
<path d="M1472.08 1496.25L1481.03 1505.2L1472.08 1514.15L1463.13 1505.2Z"/>
<path d="M1447.06 1495L1456.01 1503.95L1447.06 1512.9L1438.11 1503.95Z"/>
<path d="M1462.07 1488.75L1471.02 1497.7L1462.07 1506.65L1453.12 1497.7Z"/>
<path d="M1470.83 1487.5L1479.78 1496.45L1470.83 1505.4L1461.88 1496.45Z"/>
<path d="M1454.57 1469.99L1463.52 1478.94L1454.57 1487.89L1445.62 1478.94Z"/>
<path d="M1470.83 1453.73L1479.78 1462.68L1470.83 1471.63L1461.88 1462.68Z"/>
<path d="M1461.57 1453.73L1470.52 1462.68L1461.57 1471.63L1452.62 1462.68Z"/>
<path d="M1457.07 1444.98L1466.02 1453.93L1457.07 1462.88L1448.12 1453.93Z"/>
<path d="M1465.82 1441.72L1474.77 1450.67L1465.82 1459.62L1456.87 1450.67Z"/>
<path d="M1462.07 1421.71L1471.02 1430.66L1462.07 1439.61L1453.12 1430.66Z"/>
</g>
<g fill="#3050ff" fill-opacity="0.7" stroke="#0505f5" stroke-width="2">
<circle cx="1534.86" cy="1428.91" r="7.2"/>
<circle cx="1526.61" cy="1457.68" r="7.2"/>
<circle cx="1535.86" cy="1459.68" r="7.2"/>
<circle cx="1549.62" cy="1461.43" r="7.2"/>
<circle cx="1518.85" cy="1463.93" r="7.2"/>
<circle cx="1543.37" cy="1473.94" r="7.2"/>
<circle cx="1534.61" cy="1478.19" r="7.2"/>
<circle cx="1534.86" cy="1508.96" r="7.2"/>
</g>
<g fill="#fff" stroke="#ff800f" stroke-width="3.55" stroke-linejoin="miter">
<path d="M1640.17 1460.73L1649.12 1469.68L1640.17 1478.63L1631.22 1469.68Z"/>
<path d="M1660.43 1457.48L1669.38 1466.43L1660.43 1475.38L1651.48 1466.43Z"/>
<path d="M1670.94 1448.73L1679.89 1457.68L1670.94 1466.63L1661.99 1457.68Z"/>
<path d="M1650.18 1446.73L1659.13 1455.68L1650.18 1464.63L1641.23 1455.68Z"/>
<path d="M1650.18 1427.47L1659.13 1436.42L1650.18 1445.37L1641.23 1436.42Z"/>
<path d="M1660.43 1414.96L1669.38 1423.91L1660.43 1432.86L1651.48 1423.91Z"/>
<path d="M1650.18 1402.45L1659.13 1411.4L1650.18 1420.35L1641.23 1411.4Z"/>
<path d="M1660.43 1393.7L1669.38 1402.65L1660.43 1411.6L1651.48 1402.65Z"/>
<path d="M1649.68 1379.94L1658.63 1388.89L1649.68 1397.84L1640.73 1388.89Z"/>
<path d="M1670.94 1375.69L1679.89 1384.64L1670.94 1393.59L1661.99 1384.64Z"/>
<path d="M1660.43 1368.68L1669.38 1377.63L1660.43 1386.58L1651.48 1377.63Z"/>
<path d="M1639.67 1360.68L1648.62 1369.63L1639.67 1378.58L1630.72 1369.63Z"/>
<path d="M1670.94 1349.92L1679.89 1358.87L1670.94 1367.82L1661.99 1358.87Z"/>
<path d="M1660.43 1328.66L1669.38 1337.61L1660.43 1346.56L1651.48 1337.61Z"/>
<path d="M1650.18 1326.91L1659.13 1335.86L1650.18 1344.81L1641.23 1335.86Z"/>
<path d="M1670.94 1310.65L1679.89 1319.6L1670.94 1328.55L1661.99 1319.6Z"/>
<path d="M1660.43 1295.39L1669.38 1304.34L1660.43 1313.29L1651.48 1304.34Z"/>
<path d="M1654.68 1266.13L1663.63 1275.08L1654.68 1284.03L1645.73 1275.08Z"/>
<path d="M1655.43 1234.86L1664.38 1243.81L1655.43 1252.76L1646.48 1243.81Z"/>
</g>
<g fill="#3050ff" fill-opacity="0.7" stroke="#0505f5" stroke-width="2">
<circle cx="1728.47" cy="1356.37" r="7.2"/>
<circle cx="1728.47" cy="1387.64" r="7.2"/>
<circle cx="1712.21" cy="1429.66" r="7.2"/>
<circle cx="1733.47" cy="1430.91" r="7.2"/>
<circle cx="1743.48" cy="1432.66" r="7.2"/>
<circle cx="1723.47" cy="1433.91" r="7.2"/>
<circle cx="1727.97" cy="1437.67" r="7.2"/>
<circle cx="1739.73" cy="1445.67" r="7.2"/>
<circle cx="1718.46" cy="1452.17" r="7.2"/>
<circle cx="1728.47" cy="1473.44" r="7.2"/>
</g>
<g fill="none" stroke="#000" stroke-width="1.9">
<path d="M1439.2 1527V1482.2H1485.3V1527"/>
<path d="M1512.2 1527V1467.95H1557.8V1527"/>
<path d="M1632.95 1527V1381.45H1678.55V1527"/>
<path d="M1705.45 1527V1429.2H1751.05V1527"/>
</g>
<g stroke="#000" stroke-width="3.5" fill="none" stroke-linecap="round">
<path d="M1449.45 1474.25H1474.55M1449.45 1488H1474.55M1462 1474.25V1488"/>
<path d="M1522.2 1458.25H1547.3M1522.2 1474.5H1547.3M1534.75 1458.25V1474.5"/>
<path d="M1642.7 1364.5H1667.8M1642.7 1395H1667.8M1655.25 1364.5V1395"/>
<path d="M1715.2 1417H1740.3M1715.2 1438.25H1740.3M1727.75 1417V1438.25"/>
</g>
<path d="M1534.6 1215V1202.8H1611.5M1653.5 1202.8H1728.5V1215" fill="none" stroke="#000" stroke-width="3.3" stroke-linecap="round" stroke-linejoin="miter"/>
<text x="1632.2" y="1214.2" font-size="29.2" text-anchor="middle">ns</text>
<path d="M1672.7 1237V1230.8H1683.4M1707.2 1230.8H1728.5V1291.3" fill="none" stroke="#000" stroke-width="3.3" stroke-linecap="round" stroke-linejoin="miter"/>
<text x="1695.2" y="1247.6" font-size="33.4" font-weight="bold" text-anchor="middle">*</text>
<path d="M1462.1 1333.1V1262.6H1524.6M1587.1 1262.6H1640.2V1268.8" fill="none" stroke="#000" stroke-width="3.3" stroke-linecap="round" stroke-linejoin="miter"/>
<text x="1555.4" y="1279.4" font-size="33.4" font-weight="bold" text-anchor="middle">****</text>
<path d="M1462.1 1412.1V1393.1H1478.3M1517.1 1393.1H1534.9V1412.1" fill="none" stroke="#000" stroke-width="3.3" stroke-linecap="round" stroke-linejoin="miter"/>
<text x="1499.1" y="1400.5" font-size="29.2" text-anchor="middle">ns</text>
<text transform="translate(1498.7 1595) scale(1 1.03)" font-size="50" text-anchor="middle">ad-lib</text>
<text transform="translate(1686.8 1595) scale(1 1.04)" font-size="50" text-anchor="middle">RF</text>
<text transform="translate(1391.8 1647) scale(1 1.03)" font-size="50">Feeding condition</text>
</svg></body></html>
